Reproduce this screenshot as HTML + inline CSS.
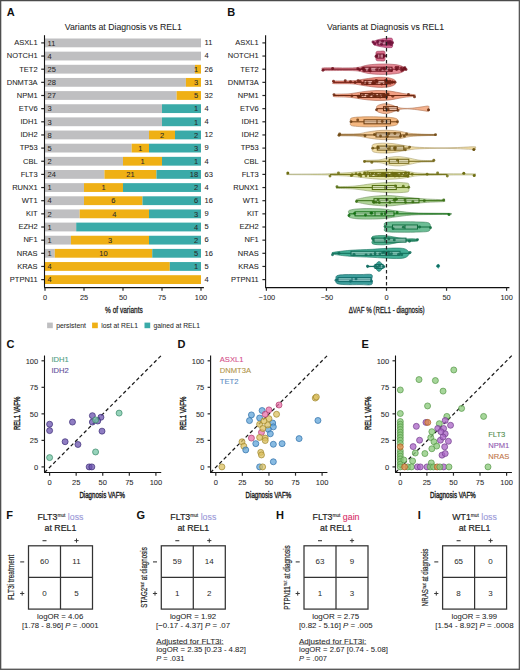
<!DOCTYPE html>
<html><head><meta charset="utf-8"><style>
html,body{margin:0;padding:0;background:#fff;width:520px;height:670px;overflow:hidden}
svg{display:block}
text{font-family:"Liberation Sans", sans-serif}
</style></head><body>
<svg width="520" height="670" viewBox="0 0 520 670">
<rect width="520" height="670" fill="#fff"/>
<rect x="0" y="0" width="520" height="1.25" fill="#4a4a4a"/><rect x="0" y="0" width="1.3" height="670" fill="#4e4e4e"/><rect x="518.7" y="0" width="1.3" height="670" fill="#585858"/><rect x="0" y="668.6" width="520" height="1.4" fill="#5a5a5a"/>
<text x="6.80" y="16.10" font-size="11" text-anchor="start" fill="#111" font-weight="bold" >A</text>
<text x="227.30" y="16.10" font-size="11" text-anchor="start" fill="#111" font-weight="bold" >B</text>
<text x="6.60" y="347.50" font-size="11" text-anchor="start" fill="#111" font-weight="bold" >C</text>
<text x="177.60" y="347.50" font-size="11" text-anchor="start" fill="#111" font-weight="bold" >D</text>
<text x="361.60" y="347.50" font-size="11" text-anchor="start" fill="#111" font-weight="bold" >E</text>
<text x="6.20" y="518.80" font-size="11" text-anchor="start" fill="#111" font-weight="bold" >F</text>
<text x="136.60" y="518.80" font-size="11" text-anchor="start" fill="#111" font-weight="bold" >G</text>
<text x="276.00" y="518.80" font-size="11" text-anchor="start" fill="#111" font-weight="bold" >H</text>
<text x="417.80" y="518.80" font-size="11" text-anchor="start" fill="#111" font-weight="bold" >I</text>
<text x="64.80" y="29.80" font-size="9.6" text-anchor="start" fill="#1e1e1e" font-weight="normal" textLength="117" lengthAdjust="spacingAndGlyphs" stroke="#1e1e1e" stroke-width="0.06" >Variants at Diagnosis vs REL1</text>
<text x="327.00" y="29.80" font-size="9.6" text-anchor="start" fill="#1e1e1e" font-weight="normal" textLength="117" lengthAdjust="spacingAndGlyphs" stroke="#1e1e1e" stroke-width="0.06" >Variants at Diagnosis vs REL1</text>
<rect x="45.00" y="38.50" width="156.00" height="8.8" fill="#bfbfc1"/>
<text x="47.60" y="45.60" font-size="7.5" text-anchor="start" fill="#2a2a2a" font-weight="normal" stroke="#2a2a2a" stroke-width="0.06" >11</text>
<text x="204.60" y="45.20" font-size="7.5" text-anchor="start" fill="#1e1e1e" font-weight="normal" stroke="#1e1e1e" stroke-width="0.06" >11</text>
<text x="37.60" y="45.20" font-size="7.5" text-anchor="end" fill="#1e1e1e" font-weight="normal" stroke="#1e1e1e" stroke-width="0.06" >ASXL1</text>
<line x1="41.2" y1="42.90" x2="44.5" y2="42.90" stroke="#2a2a2a" stroke-width="1.2"/>
<rect x="45.00" y="51.65" width="156.00" height="8.8" fill="#bfbfc1"/>
<text x="47.60" y="58.75" font-size="7.5" text-anchor="start" fill="#2a2a2a" font-weight="normal" stroke="#2a2a2a" stroke-width="0.06" >4</text>
<text x="204.60" y="58.35" font-size="7.5" text-anchor="start" fill="#1e1e1e" font-weight="normal" stroke="#1e1e1e" stroke-width="0.06" >4</text>
<text x="37.60" y="58.35" font-size="7.5" text-anchor="end" fill="#1e1e1e" font-weight="normal" stroke="#1e1e1e" stroke-width="0.06" >NOTCH1</text>
<line x1="41.2" y1="56.05" x2="44.5" y2="56.05" stroke="#2a2a2a" stroke-width="1.2"/>
<rect x="45.00" y="64.80" width="150.00" height="8.8" fill="#bfbfc1"/>
<rect x="195.00" y="64.80" width="6.00" height="8.8" fill="#efb015"/>
<text x="47.60" y="71.90" font-size="7.5" text-anchor="start" fill="#2a2a2a" font-weight="normal" stroke="#2a2a2a" stroke-width="0.06" >25</text>
<text x="198.20" y="71.90" font-size="7.5" text-anchor="end" fill="#2a2a2a" font-weight="normal" stroke="#2a2a2a" stroke-width="0.06" >1</text>
<text x="204.60" y="71.50" font-size="7.5" text-anchor="start" fill="#1e1e1e" font-weight="normal" stroke="#1e1e1e" stroke-width="0.06" >26</text>
<text x="37.60" y="71.50" font-size="7.5" text-anchor="end" fill="#1e1e1e" font-weight="normal" stroke="#1e1e1e" stroke-width="0.06" >TET2</text>
<line x1="41.2" y1="69.20" x2="44.5" y2="69.20" stroke="#2a2a2a" stroke-width="1.2"/>
<rect x="45.00" y="77.95" width="140.90" height="8.8" fill="#bfbfc1"/>
<rect x="185.90" y="77.95" width="15.10" height="8.8" fill="#efb015"/>
<text x="47.60" y="85.05" font-size="7.5" text-anchor="start" fill="#2a2a2a" font-weight="normal" stroke="#2a2a2a" stroke-width="0.06" >28</text>
<text x="198.20" y="85.05" font-size="7.5" text-anchor="end" fill="#2a2a2a" font-weight="normal" stroke="#2a2a2a" stroke-width="0.06" >3</text>
<text x="204.60" y="84.65" font-size="7.5" text-anchor="start" fill="#1e1e1e" font-weight="normal" stroke="#1e1e1e" stroke-width="0.06" >31</text>
<text x="37.60" y="84.65" font-size="7.5" text-anchor="end" fill="#1e1e1e" font-weight="normal" stroke="#1e1e1e" stroke-width="0.06" >DNMT3A</text>
<line x1="41.2" y1="82.35" x2="44.5" y2="82.35" stroke="#2a2a2a" stroke-width="1.2"/>
<rect x="45.00" y="91.10" width="131.62" height="8.8" fill="#bfbfc1"/>
<rect x="176.62" y="91.10" width="24.38" height="8.8" fill="#efb015"/>
<text x="47.60" y="98.20" font-size="7.5" text-anchor="start" fill="#2a2a2a" font-weight="normal" stroke="#2a2a2a" stroke-width="0.06" >27</text>
<text x="198.20" y="98.20" font-size="7.5" text-anchor="end" fill="#2a2a2a" font-weight="normal" stroke="#2a2a2a" stroke-width="0.06" >5</text>
<text x="204.60" y="97.80" font-size="7.5" text-anchor="start" fill="#1e1e1e" font-weight="normal" stroke="#1e1e1e" stroke-width="0.06" >32</text>
<text x="37.60" y="97.80" font-size="7.5" text-anchor="end" fill="#1e1e1e" font-weight="normal" stroke="#1e1e1e" stroke-width="0.06" >NPM1</text>
<line x1="41.2" y1="95.50" x2="44.5" y2="95.50" stroke="#2a2a2a" stroke-width="1.2"/>
<rect x="45.00" y="104.25" width="117.00" height="8.8" fill="#bfbfc1"/>
<rect x="162.00" y="104.25" width="39.00" height="8.8" fill="#3aaaa8"/>
<text x="47.60" y="111.35" font-size="7.5" text-anchor="start" fill="#2a2a2a" font-weight="normal" stroke="#2a2a2a" stroke-width="0.06" >3</text>
<text x="198.20" y="111.35" font-size="7.5" text-anchor="end" fill="#2a2a2a" font-weight="normal" stroke="#2a2a2a" stroke-width="0.06" >1</text>
<text x="204.60" y="110.95" font-size="7.5" text-anchor="start" fill="#1e1e1e" font-weight="normal" stroke="#1e1e1e" stroke-width="0.06" >4</text>
<text x="37.60" y="110.95" font-size="7.5" text-anchor="end" fill="#1e1e1e" font-weight="normal" stroke="#1e1e1e" stroke-width="0.06" >ETV6</text>
<line x1="41.2" y1="108.65" x2="44.5" y2="108.65" stroke="#2a2a2a" stroke-width="1.2"/>
<rect x="45.00" y="117.40" width="117.00" height="8.8" fill="#bfbfc1"/>
<rect x="162.00" y="117.40" width="39.00" height="8.8" fill="#3aaaa8"/>
<text x="47.60" y="124.50" font-size="7.5" text-anchor="start" fill="#2a2a2a" font-weight="normal" stroke="#2a2a2a" stroke-width="0.06" >3</text>
<text x="198.20" y="124.50" font-size="7.5" text-anchor="end" fill="#2a2a2a" font-weight="normal" stroke="#2a2a2a" stroke-width="0.06" >1</text>
<text x="204.60" y="124.10" font-size="7.5" text-anchor="start" fill="#1e1e1e" font-weight="normal" stroke="#1e1e1e" stroke-width="0.06" >4</text>
<text x="37.60" y="124.10" font-size="7.5" text-anchor="end" fill="#1e1e1e" font-weight="normal" stroke="#1e1e1e" stroke-width="0.06" >IDH1</text>
<line x1="41.2" y1="121.80" x2="44.5" y2="121.80" stroke="#2a2a2a" stroke-width="1.2"/>
<rect x="45.00" y="130.55" width="104.00" height="8.8" fill="#bfbfc1"/>
<rect x="149.00" y="130.55" width="26.00" height="8.8" fill="#efb015"/>
<rect x="175.00" y="130.55" width="26.00" height="8.8" fill="#3aaaa8"/>
<text x="47.60" y="137.65" font-size="7.5" text-anchor="start" fill="#2a2a2a" font-weight="normal" stroke="#2a2a2a" stroke-width="0.06" >8</text>
<text x="162.00" y="137.65" font-size="7.5" text-anchor="middle" fill="#2a2a2a" font-weight="normal" stroke="#2a2a2a" stroke-width="0.06" >2</text>
<text x="198.20" y="137.65" font-size="7.5" text-anchor="end" fill="#2a2a2a" font-weight="normal" stroke="#2a2a2a" stroke-width="0.06" >2</text>
<text x="204.60" y="137.25" font-size="7.5" text-anchor="start" fill="#1e1e1e" font-weight="normal" stroke="#1e1e1e" stroke-width="0.06" >12</text>
<text x="37.60" y="137.25" font-size="7.5" text-anchor="end" fill="#1e1e1e" font-weight="normal" stroke="#1e1e1e" stroke-width="0.06" >IDH2</text>
<line x1="41.2" y1="134.95" x2="44.5" y2="134.95" stroke="#2a2a2a" stroke-width="1.2"/>
<rect x="45.00" y="143.70" width="86.67" height="8.8" fill="#bfbfc1"/>
<rect x="131.67" y="143.70" width="17.33" height="8.8" fill="#efb015"/>
<rect x="149.00" y="143.70" width="52.00" height="8.8" fill="#3aaaa8"/>
<text x="47.60" y="150.80" font-size="7.5" text-anchor="start" fill="#2a2a2a" font-weight="normal" stroke="#2a2a2a" stroke-width="0.06" >5</text>
<text x="140.33" y="150.80" font-size="7.5" text-anchor="middle" fill="#2a2a2a" font-weight="normal" stroke="#2a2a2a" stroke-width="0.06" >1</text>
<text x="198.20" y="150.80" font-size="7.5" text-anchor="end" fill="#2a2a2a" font-weight="normal" stroke="#2a2a2a" stroke-width="0.06" >3</text>
<text x="204.60" y="150.40" font-size="7.5" text-anchor="start" fill="#1e1e1e" font-weight="normal" stroke="#1e1e1e" stroke-width="0.06" >9</text>
<text x="37.60" y="150.40" font-size="7.5" text-anchor="end" fill="#1e1e1e" font-weight="normal" stroke="#1e1e1e" stroke-width="0.06" >TP53</text>
<line x1="41.2" y1="148.10" x2="44.5" y2="148.10" stroke="#2a2a2a" stroke-width="1.2"/>
<rect x="45.00" y="156.85" width="78.00" height="8.8" fill="#bfbfc1"/>
<rect x="123.00" y="156.85" width="39.00" height="8.8" fill="#efb015"/>
<rect x="162.00" y="156.85" width="39.00" height="8.8" fill="#3aaaa8"/>
<text x="47.60" y="163.95" font-size="7.5" text-anchor="start" fill="#2a2a2a" font-weight="normal" stroke="#2a2a2a" stroke-width="0.06" >2</text>
<text x="142.50" y="163.95" font-size="7.5" text-anchor="middle" fill="#2a2a2a" font-weight="normal" stroke="#2a2a2a" stroke-width="0.06" >1</text>
<text x="198.20" y="163.95" font-size="7.5" text-anchor="end" fill="#2a2a2a" font-weight="normal" stroke="#2a2a2a" stroke-width="0.06" >1</text>
<text x="204.60" y="163.55" font-size="7.5" text-anchor="start" fill="#1e1e1e" font-weight="normal" stroke="#1e1e1e" stroke-width="0.06" >4</text>
<text x="37.60" y="163.55" font-size="7.5" text-anchor="end" fill="#1e1e1e" font-weight="normal" stroke="#1e1e1e" stroke-width="0.06" >CBL</text>
<line x1="41.2" y1="161.25" x2="44.5" y2="161.25" stroke="#2a2a2a" stroke-width="1.2"/>
<rect x="45.00" y="170.00" width="59.43" height="8.8" fill="#bfbfc1"/>
<rect x="104.43" y="170.00" width="52.00" height="8.8" fill="#efb015"/>
<rect x="156.43" y="170.00" width="44.57" height="8.8" fill="#3aaaa8"/>
<text x="47.60" y="177.10" font-size="7.5" text-anchor="start" fill="#2a2a2a" font-weight="normal" stroke="#2a2a2a" stroke-width="0.06" >24</text>
<text x="130.43" y="177.10" font-size="7.5" text-anchor="middle" fill="#2a2a2a" font-weight="normal" stroke="#2a2a2a" stroke-width="0.06" >21</text>
<text x="198.20" y="177.10" font-size="7.5" text-anchor="end" fill="#2a2a2a" font-weight="normal" stroke="#2a2a2a" stroke-width="0.06" >18</text>
<text x="204.60" y="176.70" font-size="7.5" text-anchor="start" fill="#1e1e1e" font-weight="normal" stroke="#1e1e1e" stroke-width="0.06" >63</text>
<text x="37.60" y="176.70" font-size="7.5" text-anchor="end" fill="#1e1e1e" font-weight="normal" stroke="#1e1e1e" stroke-width="0.06" >FLT3</text>
<line x1="41.2" y1="174.40" x2="44.5" y2="174.40" stroke="#2a2a2a" stroke-width="1.2"/>
<rect x="45.00" y="183.15" width="39.00" height="8.8" fill="#bfbfc1"/>
<rect x="84.00" y="183.15" width="39.00" height="8.8" fill="#efb015"/>
<rect x="123.00" y="183.15" width="78.00" height="8.8" fill="#3aaaa8"/>
<text x="47.60" y="190.25" font-size="7.5" text-anchor="start" fill="#2a2a2a" font-weight="normal" stroke="#2a2a2a" stroke-width="0.06" >1</text>
<text x="103.50" y="190.25" font-size="7.5" text-anchor="middle" fill="#2a2a2a" font-weight="normal" stroke="#2a2a2a" stroke-width="0.06" >1</text>
<text x="198.20" y="190.25" font-size="7.5" text-anchor="end" fill="#2a2a2a" font-weight="normal" stroke="#2a2a2a" stroke-width="0.06" >2</text>
<text x="204.60" y="189.85" font-size="7.5" text-anchor="start" fill="#1e1e1e" font-weight="normal" stroke="#1e1e1e" stroke-width="0.06" >4</text>
<text x="37.60" y="189.85" font-size="7.5" text-anchor="end" fill="#1e1e1e" font-weight="normal" stroke="#1e1e1e" stroke-width="0.06" >RUNX1</text>
<line x1="41.2" y1="187.55" x2="44.5" y2="187.55" stroke="#2a2a2a" stroke-width="1.2"/>
<rect x="45.00" y="196.30" width="39.00" height="8.8" fill="#bfbfc1"/>
<rect x="84.00" y="196.30" width="58.50" height="8.8" fill="#efb015"/>
<rect x="142.50" y="196.30" width="58.50" height="8.8" fill="#3aaaa8"/>
<text x="47.60" y="203.40" font-size="7.5" text-anchor="start" fill="#2a2a2a" font-weight="normal" stroke="#2a2a2a" stroke-width="0.06" >4</text>
<text x="113.25" y="203.40" font-size="7.5" text-anchor="middle" fill="#2a2a2a" font-weight="normal" stroke="#2a2a2a" stroke-width="0.06" >6</text>
<text x="198.20" y="203.40" font-size="7.5" text-anchor="end" fill="#2a2a2a" font-weight="normal" stroke="#2a2a2a" stroke-width="0.06" >6</text>
<text x="204.60" y="203.00" font-size="7.5" text-anchor="start" fill="#1e1e1e" font-weight="normal" stroke="#1e1e1e" stroke-width="0.06" >16</text>
<text x="37.60" y="203.00" font-size="7.5" text-anchor="end" fill="#1e1e1e" font-weight="normal" stroke="#1e1e1e" stroke-width="0.06" >WT1</text>
<line x1="41.2" y1="200.70" x2="44.5" y2="200.70" stroke="#2a2a2a" stroke-width="1.2"/>
<rect x="45.00" y="209.45" width="34.67" height="8.8" fill="#bfbfc1"/>
<rect x="79.67" y="209.45" width="69.33" height="8.8" fill="#efb015"/>
<rect x="149.00" y="209.45" width="52.00" height="8.8" fill="#3aaaa8"/>
<text x="47.60" y="216.55" font-size="7.5" text-anchor="start" fill="#2a2a2a" font-weight="normal" stroke="#2a2a2a" stroke-width="0.06" >2</text>
<text x="114.33" y="216.55" font-size="7.5" text-anchor="middle" fill="#2a2a2a" font-weight="normal" stroke="#2a2a2a" stroke-width="0.06" >4</text>
<text x="198.20" y="216.55" font-size="7.5" text-anchor="end" fill="#2a2a2a" font-weight="normal" stroke="#2a2a2a" stroke-width="0.06" >3</text>
<text x="204.60" y="216.15" font-size="7.5" text-anchor="start" fill="#1e1e1e" font-weight="normal" stroke="#1e1e1e" stroke-width="0.06" >9</text>
<text x="37.60" y="216.15" font-size="7.5" text-anchor="end" fill="#1e1e1e" font-weight="normal" stroke="#1e1e1e" stroke-width="0.06" >KIT</text>
<line x1="41.2" y1="213.85" x2="44.5" y2="213.85" stroke="#2a2a2a" stroke-width="1.2"/>
<rect x="45.00" y="222.60" width="31.20" height="8.8" fill="#bfbfc1"/>
<rect x="76.20" y="222.60" width="124.80" height="8.8" fill="#3aaaa8"/>
<text x="47.60" y="229.70" font-size="7.5" text-anchor="start" fill="#2a2a2a" font-weight="normal" stroke="#2a2a2a" stroke-width="0.06" >1</text>
<text x="198.20" y="229.70" font-size="7.5" text-anchor="end" fill="#2a2a2a" font-weight="normal" stroke="#2a2a2a" stroke-width="0.06" >4</text>
<text x="204.60" y="229.30" font-size="7.5" text-anchor="start" fill="#1e1e1e" font-weight="normal" stroke="#1e1e1e" stroke-width="0.06" >5</text>
<text x="37.60" y="229.30" font-size="7.5" text-anchor="end" fill="#1e1e1e" font-weight="normal" stroke="#1e1e1e" stroke-width="0.06" >EZH2</text>
<line x1="41.2" y1="227.00" x2="44.5" y2="227.00" stroke="#2a2a2a" stroke-width="1.2"/>
<rect x="45.00" y="235.75" width="26.00" height="8.8" fill="#bfbfc1"/>
<rect x="71.00" y="235.75" width="78.00" height="8.8" fill="#efb015"/>
<rect x="149.00" y="235.75" width="52.00" height="8.8" fill="#3aaaa8"/>
<text x="47.60" y="242.85" font-size="7.5" text-anchor="start" fill="#2a2a2a" font-weight="normal" stroke="#2a2a2a" stroke-width="0.06" >1</text>
<text x="110.00" y="242.85" font-size="7.5" text-anchor="middle" fill="#2a2a2a" font-weight="normal" stroke="#2a2a2a" stroke-width="0.06" >3</text>
<text x="198.20" y="242.85" font-size="7.5" text-anchor="end" fill="#2a2a2a" font-weight="normal" stroke="#2a2a2a" stroke-width="0.06" >2</text>
<text x="204.60" y="242.45" font-size="7.5" text-anchor="start" fill="#1e1e1e" font-weight="normal" stroke="#1e1e1e" stroke-width="0.06" >6</text>
<text x="37.60" y="242.45" font-size="7.5" text-anchor="end" fill="#1e1e1e" font-weight="normal" stroke="#1e1e1e" stroke-width="0.06" >NF1</text>
<line x1="41.2" y1="240.15" x2="44.5" y2="240.15" stroke="#2a2a2a" stroke-width="1.2"/>
<rect x="45.00" y="248.90" width="9.75" height="8.8" fill="#bfbfc1"/>
<rect x="54.75" y="248.90" width="97.50" height="8.8" fill="#efb015"/>
<rect x="152.25" y="248.90" width="48.75" height="8.8" fill="#3aaaa8"/>
<text x="47.60" y="256.00" font-size="7.5" text-anchor="start" fill="#2a2a2a" font-weight="normal" stroke="#2a2a2a" stroke-width="0.06" >1</text>
<text x="103.50" y="256.00" font-size="7.5" text-anchor="middle" fill="#2a2a2a" font-weight="normal" stroke="#2a2a2a" stroke-width="0.06" >10</text>
<text x="198.20" y="256.00" font-size="7.5" text-anchor="end" fill="#2a2a2a" font-weight="normal" stroke="#2a2a2a" stroke-width="0.06" >5</text>
<text x="204.60" y="255.60" font-size="7.5" text-anchor="start" fill="#1e1e1e" font-weight="normal" stroke="#1e1e1e" stroke-width="0.06" >16</text>
<text x="37.60" y="255.60" font-size="7.5" text-anchor="end" fill="#1e1e1e" font-weight="normal" stroke="#1e1e1e" stroke-width="0.06" >NRAS</text>
<line x1="41.2" y1="253.30" x2="44.5" y2="253.30" stroke="#2a2a2a" stroke-width="1.2"/>
<rect x="45.00" y="262.05" width="124.80" height="8.8" fill="#efb015"/>
<rect x="169.80" y="262.05" width="31.20" height="8.8" fill="#3aaaa8"/>
<text x="47.60" y="269.15" font-size="7.5" text-anchor="start" fill="#2a2a2a" font-weight="normal" stroke="#2a2a2a" stroke-width="0.06" >4</text>
<text x="198.20" y="269.15" font-size="7.5" text-anchor="end" fill="#2a2a2a" font-weight="normal" stroke="#2a2a2a" stroke-width="0.06" >1</text>
<text x="204.60" y="268.75" font-size="7.5" text-anchor="start" fill="#1e1e1e" font-weight="normal" stroke="#1e1e1e" stroke-width="0.06" >5</text>
<text x="37.60" y="268.75" font-size="7.5" text-anchor="end" fill="#1e1e1e" font-weight="normal" stroke="#1e1e1e" stroke-width="0.06" >KRAS</text>
<line x1="41.2" y1="266.45" x2="44.5" y2="266.45" stroke="#2a2a2a" stroke-width="1.2"/>
<rect x="45.00" y="275.20" width="156.00" height="8.8" fill="#efb015"/>
<text x="47.60" y="282.30" font-size="7.5" text-anchor="start" fill="#2a2a2a" font-weight="normal" stroke="#2a2a2a" stroke-width="0.06" >4</text>
<text x="204.60" y="281.90" font-size="7.5" text-anchor="start" fill="#1e1e1e" font-weight="normal" stroke="#1e1e1e" stroke-width="0.06" >4</text>
<text x="37.60" y="281.90" font-size="7.5" text-anchor="end" fill="#1e1e1e" font-weight="normal" stroke="#1e1e1e" stroke-width="0.06" >PTPN11</text>
<line x1="41.2" y1="279.60" x2="44.5" y2="279.60" stroke="#2a2a2a" stroke-width="1.2"/>
<line x1="44.5" y1="35.2" x2="44.5" y2="287.6" stroke="#111" stroke-width="1.1"/>
<line x1="44" y1="287.6" x2="203.9" y2="287.6" stroke="#111" stroke-width="1.1"/>
<line x1="45.00" y1="287.6" x2="45.00" y2="290.8" stroke="#2a2a2a" stroke-width="1.2"/>
<text x="45.00" y="300.40" font-size="7.4" text-anchor="middle" fill="#2a2a2a" font-weight="normal" stroke="#2a2a2a" stroke-width="0.06" >0</text>
<line x1="84.00" y1="287.6" x2="84.00" y2="290.8" stroke="#2a2a2a" stroke-width="1.2"/>
<text x="84.00" y="300.40" font-size="7.4" text-anchor="middle" fill="#2a2a2a" font-weight="normal" stroke="#2a2a2a" stroke-width="0.06" >25</text>
<line x1="123.00" y1="287.6" x2="123.00" y2="290.8" stroke="#2a2a2a" stroke-width="1.2"/>
<text x="123.00" y="300.40" font-size="7.4" text-anchor="middle" fill="#2a2a2a" font-weight="normal" stroke="#2a2a2a" stroke-width="0.06" >50</text>
<line x1="162.00" y1="287.6" x2="162.00" y2="290.8" stroke="#2a2a2a" stroke-width="1.2"/>
<text x="162.00" y="300.40" font-size="7.4" text-anchor="middle" fill="#2a2a2a" font-weight="normal" stroke="#2a2a2a" stroke-width="0.06" >75</text>
<line x1="201.00" y1="287.6" x2="201.00" y2="290.8" stroke="#2a2a2a" stroke-width="1.2"/>
<text x="201.00" y="300.40" font-size="7.4" text-anchor="middle" fill="#2a2a2a" font-weight="normal" stroke="#2a2a2a" stroke-width="0.06" >100</text>
<text x="105.10" y="312.80" font-size="8.6" text-anchor="start" fill="#1e1e1e" font-weight="normal" textLength="37.7" lengthAdjust="spacingAndGlyphs" stroke="#1e1e1e" stroke-width="0.3" >% of variants</text>
<rect x="47.1" y="322.6" width="5.7" height="5.6" fill="#bfbfc1"/>
<text x="56.20" y="328.00" font-size="7.9" text-anchor="start" fill="#2a2a2a" font-weight="normal" textLength="29.8" lengthAdjust="spacingAndGlyphs" stroke="#2a2a2a" stroke-width="0.06" >persistent</text>
<rect x="92.1" y="322.6" width="5.7" height="5.6" fill="#efb015"/>
<text x="101.20" y="328.00" font-size="7.9" text-anchor="start" fill="#2a2a2a" font-weight="normal" textLength="36.8" lengthAdjust="spacingAndGlyphs" stroke="#2a2a2a" stroke-width="0.06" >lost at REL1</text>
<rect x="144.5" y="322.6" width="5.7" height="5.6" fill="#3aaaa8"/>
<text x="153.60" y="328.00" font-size="7.9" text-anchor="start" fill="#2a2a2a" font-weight="normal" textLength="46.4" lengthAdjust="spacingAndGlyphs" stroke="#2a2a2a" stroke-width="0.06" >gained at REL1</text>
<path d="M372.80,42.90 C372.92,42.65 372.63,41.93 373.50,41.40 C374.37,40.87 376.08,40.20 378.00,39.70 C379.92,39.20 383.00,38.67 385.00,38.40 C387.00,38.13 388.77,38.02 390.00,38.10 C391.23,38.18 391.97,38.10 392.40,38.90 C392.83,39.70 392.57,42.23 392.60,42.90 C392.63,43.57 392.63,42.23 392.60,42.90 C392.57,43.57 392.83,46.10 392.40,46.90 C391.97,47.70 391.23,47.62 390.00,47.70 C388.77,47.78 387.00,47.67 385.00,47.40 C383.00,47.13 379.92,46.60 378.00,46.10 C376.08,45.60 374.37,44.93 373.50,44.40 C372.63,43.87 372.92,43.15 372.80,42.90 Z" fill="#cc4a80" fill-opacity="0.85" stroke="#92355c" stroke-width="0.7" stroke-opacity="0.85"/>
<line x1="373.00" y1="42.90" x2="392.50" y2="42.90" stroke="#6d1137" stroke-width="1.0"/>
<rect x="378.00" y="40.90" width="12.00" height="4.0" fill="#ffffff" fill-opacity="0.35" stroke="#6d1137" stroke-width="1.05"/>
<line x1="386.00" y1="40.90" x2="386.00" y2="44.90" stroke="#6d1137" stroke-width="1.0"/>
<circle cx="373.00" cy="41.89" r="1.45" fill="#6d1137" fill-opacity="0.85"/>
<circle cx="392.50" cy="42.75" r="1.45" fill="#6d1137" fill-opacity="0.85"/>
<circle cx="387.89" cy="42.14" r="1.45" fill="#6d1137" fill-opacity="0.85"/>
<circle cx="382.66" cy="41.18" r="1.45" fill="#6d1137" fill-opacity="0.85"/>
<circle cx="374.83" cy="44.12" r="1.45" fill="#6d1137" fill-opacity="0.85"/>
<circle cx="389.30" cy="43.10" r="1.45" fill="#6d1137" fill-opacity="0.85"/>
<circle cx="387.86" cy="43.41" r="1.45" fill="#6d1137" fill-opacity="0.85"/>
<circle cx="390.58" cy="41.77" r="1.45" fill="#6d1137" fill-opacity="0.85"/>
<circle cx="391.31" cy="44.67" r="1.45" fill="#6d1137" fill-opacity="0.85"/>
<circle cx="381.54" cy="44.20" r="1.45" fill="#6d1137" fill-opacity="0.85"/>
<circle cx="377.55" cy="41.54" r="1.45" fill="#6d1137" fill-opacity="0.85"/>
<text x="258.70" y="45.20" font-size="7.5" text-anchor="end" fill="#1e1e1e" font-weight="normal" stroke="#1e1e1e" stroke-width="0.06" >ASXL1</text>
<line x1="262.4" y1="42.90" x2="265.6" y2="42.90" stroke="#2a2a2a" stroke-width="1.2"/>
<path d="M376.00,56.05 C376.05,55.35 375.63,52.65 376.30,51.85 C376.97,51.05 378.62,51.32 380.00,51.25 C381.38,51.18 383.78,50.65 384.60,51.45 C385.42,52.25 384.85,55.28 384.90,56.05 C384.95,56.82 384.95,55.28 384.90,56.05 C384.85,56.82 385.42,59.85 384.60,60.65 C383.78,61.45 381.38,60.92 380.00,60.85 C378.62,60.78 376.97,61.05 376.30,60.25 C375.63,59.45 376.05,56.75 376.00,56.05 Z" fill="#d45478" fill-opacity="0.85" stroke="#983c56" stroke-width="0.7" stroke-opacity="0.85"/>
<line x1="376.00" y1="56.05" x2="384.40" y2="56.05" stroke="#6d112b" stroke-width="1.0"/>
<rect x="377.00" y="54.05" width="6.50" height="4.0" fill="#ffffff" fill-opacity="0.35" stroke="#6d112b" stroke-width="1.05"/>
<line x1="380.00" y1="54.05" x2="380.00" y2="58.05" stroke="#6d112b" stroke-width="1.0"/>
<circle cx="376.00" cy="56.56" r="1.45" fill="#6d112b" fill-opacity="0.85"/>
<circle cx="384.40" cy="55.90" r="1.45" fill="#6d112b" fill-opacity="0.85"/>
<circle cx="376.72" cy="55.88" r="1.45" fill="#6d112b" fill-opacity="0.85"/>
<circle cx="384.39" cy="56.03" r="1.45" fill="#6d112b" fill-opacity="0.85"/>
<text x="258.70" y="58.35" font-size="7.5" text-anchor="end" fill="#1e1e1e" font-weight="normal" stroke="#1e1e1e" stroke-width="0.06" >NOTCH1</text>
<line x1="262.4" y1="56.05" x2="265.6" y2="56.05" stroke="#2a2a2a" stroke-width="1.2"/>
<path d="M323.00,69.20 C323.08,68.98 319.83,68.12 323.50,67.90 C327.17,67.68 339.25,67.98 345.00,67.90 C350.75,67.82 354.17,67.88 358.00,67.40 C361.83,66.92 364.00,65.57 368.00,65.00 C372.00,64.43 377.50,64.07 382.00,64.00 C386.50,63.93 391.67,64.23 395.00,64.60 C398.33,64.97 400.17,65.43 402.00,66.20 C403.83,66.97 405.33,68.70 406.00,69.20 C406.67,69.70 406.67,68.70 406.00,69.20 C405.33,69.70 403.83,71.43 402.00,72.20 C400.17,72.97 398.33,73.43 395.00,73.80 C391.67,74.17 386.50,74.47 382.00,74.40 C377.50,74.33 372.00,73.97 368.00,73.40 C364.00,72.83 361.83,71.48 358.00,71.00 C354.17,70.52 350.75,70.58 345.00,70.50 C339.25,70.42 327.17,70.72 323.50,70.50 C319.83,70.28 323.08,69.42 323.00,69.20 Z" fill="#e27482" fill-opacity="0.85" stroke="#a2535d" stroke-width="0.7" stroke-opacity="0.85"/>
<line x1="323.00" y1="69.20" x2="406.00" y2="69.20" stroke="#6d111d" stroke-width="1.0"/>
<rect x="363.00" y="67.20" width="29.00" height="4.0" fill="#ffffff" fill-opacity="0.35" stroke="#6d111d" stroke-width="1.05"/>
<line x1="378.00" y1="67.20" x2="378.00" y2="71.20" stroke="#6d111d" stroke-width="1.0"/>
<circle cx="323.00" cy="70.20" r="1.45" fill="#6d111d" fill-opacity="0.85"/>
<circle cx="406.00" cy="69.54" r="1.45" fill="#6d111d" fill-opacity="0.85"/>
<circle cx="403.12" cy="69.89" r="1.45" fill="#6d111d" fill-opacity="0.85"/>
<circle cx="384.09" cy="68.32" r="1.45" fill="#6d111d" fill-opacity="0.85"/>
<circle cx="404.87" cy="67.71" r="1.45" fill="#6d111d" fill-opacity="0.85"/>
<circle cx="396.00" cy="67.43" r="1.45" fill="#6d111d" fill-opacity="0.85"/>
<circle cx="381.78" cy="68.60" r="1.45" fill="#6d111d" fill-opacity="0.85"/>
<circle cx="389.20" cy="69.73" r="1.45" fill="#6d111d" fill-opacity="0.85"/>
<circle cx="357.85" cy="68.77" r="1.45" fill="#6d111d" fill-opacity="0.85"/>
<circle cx="369.87" cy="68.65" r="1.45" fill="#6d111d" fill-opacity="0.85"/>
<circle cx="376.58" cy="69.63" r="1.45" fill="#6d111d" fill-opacity="0.85"/>
<circle cx="380.31" cy="69.94" r="1.45" fill="#6d111d" fill-opacity="0.85"/>
<circle cx="396.63" cy="69.54" r="1.45" fill="#6d111d" fill-opacity="0.85"/>
<circle cx="332.65" cy="68.52" r="1.45" fill="#6d111d" fill-opacity="0.85"/>
<circle cx="369.06" cy="70.36" r="1.45" fill="#6d111d" fill-opacity="0.85"/>
<circle cx="364.67" cy="70.28" r="1.45" fill="#6d111d" fill-opacity="0.85"/>
<circle cx="401.70" cy="70.62" r="1.45" fill="#6d111d" fill-opacity="0.85"/>
<circle cx="391.47" cy="70.61" r="1.45" fill="#6d111d" fill-opacity="0.85"/>
<circle cx="398.10" cy="67.45" r="1.45" fill="#6d111d" fill-opacity="0.85"/>
<circle cx="359.65" cy="69.81" r="1.45" fill="#6d111d" fill-opacity="0.85"/>
<circle cx="362.38" cy="68.65" r="1.45" fill="#6d111d" fill-opacity="0.85"/>
<circle cx="363.88" cy="68.80" r="1.45" fill="#6d111d" fill-opacity="0.85"/>
<circle cx="384.51" cy="69.27" r="1.45" fill="#6d111d" fill-opacity="0.85"/>
<circle cx="401.39" cy="67.92" r="1.45" fill="#6d111d" fill-opacity="0.85"/>
<circle cx="404.04" cy="68.30" r="1.45" fill="#6d111d" fill-opacity="0.85"/>
<circle cx="370.28" cy="70.95" r="1.45" fill="#6d111d" fill-opacity="0.85"/>
<text x="258.70" y="71.50" font-size="7.5" text-anchor="end" fill="#1e1e1e" font-weight="normal" stroke="#1e1e1e" stroke-width="0.06" >TET2</text>
<line x1="262.4" y1="69.20" x2="265.6" y2="69.20" stroke="#2a2a2a" stroke-width="1.2"/>
<path d="M333.50,82.35 C333.58,82.13 330.92,81.30 334.00,81.05 C337.08,80.80 346.83,81.20 352.00,80.85 C357.17,80.50 360.67,79.53 365.00,78.95 C369.33,78.37 374.17,77.55 378.00,77.35 C381.83,77.15 385.25,77.33 388.00,77.75 C390.75,78.17 393.33,79.08 394.50,79.85 C395.67,80.62 394.92,81.93 395.00,82.35 C395.08,82.77 395.08,81.93 395.00,82.35 C394.92,82.77 395.67,84.08 394.50,84.85 C393.33,85.62 390.75,86.53 388.00,86.95 C385.25,87.37 381.83,87.55 378.00,87.35 C374.17,87.15 369.33,86.33 365.00,85.75 C360.67,85.17 357.17,84.20 352.00,83.85 C346.83,83.50 337.08,83.90 334.00,83.65 C330.92,83.40 333.58,82.57 333.50,82.35 Z" fill="#e67664" fill-opacity="0.85" stroke="#a55448" stroke-width="0.7" stroke-opacity="0.85"/>
<line x1="333.50" y1="82.35" x2="395.00" y2="82.35" stroke="#6d1e11" stroke-width="1.0"/>
<rect x="364.00" y="80.35" width="23.00" height="4.0" fill="#ffffff" fill-opacity="0.35" stroke="#6d1e11" stroke-width="1.05"/>
<line x1="377.00" y1="80.35" x2="377.00" y2="84.35" stroke="#6d1e11" stroke-width="1.0"/>
<circle cx="333.50" cy="81.28" r="1.45" fill="#6d1e11" fill-opacity="0.85"/>
<circle cx="395.00" cy="82.31" r="1.45" fill="#6d1e11" fill-opacity="0.85"/>
<circle cx="392.43" cy="81.93" r="1.45" fill="#6d1e11" fill-opacity="0.85"/>
<circle cx="373.56" cy="83.25" r="1.45" fill="#6d1e11" fill-opacity="0.85"/>
<circle cx="388.21" cy="83.14" r="1.45" fill="#6d1e11" fill-opacity="0.85"/>
<circle cx="392.51" cy="82.22" r="1.45" fill="#6d1e11" fill-opacity="0.85"/>
<circle cx="377.05" cy="81.45" r="1.45" fill="#6d1e11" fill-opacity="0.85"/>
<circle cx="387.70" cy="81.38" r="1.45" fill="#6d1e11" fill-opacity="0.85"/>
<circle cx="385.76" cy="81.51" r="1.45" fill="#6d1e11" fill-opacity="0.85"/>
<circle cx="376.45" cy="80.78" r="1.45" fill="#6d1e11" fill-opacity="0.85"/>
<circle cx="374.55" cy="82.95" r="1.45" fill="#6d1e11" fill-opacity="0.85"/>
<circle cx="389.86" cy="81.12" r="1.45" fill="#6d1e11" fill-opacity="0.85"/>
<circle cx="366.90" cy="83.75" r="1.45" fill="#6d1e11" fill-opacity="0.85"/>
<circle cx="374.90" cy="82.88" r="1.45" fill="#6d1e11" fill-opacity="0.85"/>
<circle cx="358.14" cy="80.75" r="1.45" fill="#6d1e11" fill-opacity="0.85"/>
<circle cx="388.57" cy="82.35" r="1.45" fill="#6d1e11" fill-opacity="0.85"/>
<circle cx="367.12" cy="82.72" r="1.45" fill="#6d1e11" fill-opacity="0.85"/>
<circle cx="345.26" cy="80.70" r="1.45" fill="#6d1e11" fill-opacity="0.85"/>
<circle cx="373.30" cy="82.30" r="1.45" fill="#6d1e11" fill-opacity="0.85"/>
<circle cx="376.16" cy="80.66" r="1.45" fill="#6d1e11" fill-opacity="0.85"/>
<circle cx="390.14" cy="83.31" r="1.45" fill="#6d1e11" fill-opacity="0.85"/>
<circle cx="385.56" cy="80.56" r="1.45" fill="#6d1e11" fill-opacity="0.85"/>
<circle cx="373.06" cy="82.83" r="1.45" fill="#6d1e11" fill-opacity="0.85"/>
<circle cx="381.73" cy="84.10" r="1.45" fill="#6d1e11" fill-opacity="0.85"/>
<circle cx="372.53" cy="83.60" r="1.45" fill="#6d1e11" fill-opacity="0.85"/>
<circle cx="360.22" cy="81.39" r="1.45" fill="#6d1e11" fill-opacity="0.85"/>
<circle cx="355.17" cy="82.47" r="1.45" fill="#6d1e11" fill-opacity="0.85"/>
<circle cx="386.77" cy="81.05" r="1.45" fill="#6d1e11" fill-opacity="0.85"/>
<circle cx="350.50" cy="81.78" r="1.45" fill="#6d1e11" fill-opacity="0.85"/>
<circle cx="362.40" cy="83.66" r="1.45" fill="#6d1e11" fill-opacity="0.85"/>
<circle cx="385.71" cy="83.49" r="1.45" fill="#6d1e11" fill-opacity="0.85"/>
<text x="258.70" y="84.65" font-size="7.5" text-anchor="end" fill="#1e1e1e" font-weight="normal" stroke="#1e1e1e" stroke-width="0.06" >DNMT3A</text>
<line x1="262.4" y1="82.35" x2="265.6" y2="82.35" stroke="#2a2a2a" stroke-width="1.2"/>
<path d="M334.00,95.50 C334.08,95.30 331.83,94.60 334.50,94.30 C337.17,94.00 345.25,94.13 350.00,93.70 C354.75,93.27 358.67,92.23 363.00,91.70 C367.33,91.17 371.50,90.60 376.00,90.50 C380.50,90.40 385.50,90.60 390.00,91.10 C394.50,91.60 398.92,92.90 403.00,93.50 C407.08,94.10 412.57,94.37 414.50,94.70 C416.43,95.03 414.58,95.37 414.60,95.50 C414.62,95.63 414.62,95.37 414.60,95.50 C414.58,95.63 416.43,95.97 414.50,96.30 C412.57,96.63 407.08,96.90 403.00,97.50 C398.92,98.10 394.50,99.40 390.00,99.90 C385.50,100.40 380.50,100.60 376.00,100.50 C371.50,100.40 367.33,99.83 363.00,99.30 C358.67,98.77 354.75,97.73 350.00,97.30 C345.25,96.87 337.17,97.00 334.50,96.70 C331.83,96.40 334.08,95.70 334.00,95.50 Z" fill="#ee8e6c" fill-opacity="0.85" stroke="#ab664d" stroke-width="0.7" stroke-opacity="0.85"/>
<line x1="334.00" y1="95.50" x2="414.50" y2="95.50" stroke="#6d2911" stroke-width="1.0"/>
<rect x="360.50" y="93.50" width="24.10" height="4.0" fill="#ffffff" fill-opacity="0.35" stroke="#6d2911" stroke-width="1.05"/>
<line x1="373.00" y1="93.50" x2="373.00" y2="97.50" stroke="#6d2911" stroke-width="1.0"/>
<circle cx="334.00" cy="94.69" r="1.45" fill="#6d2911" fill-opacity="0.85"/>
<circle cx="414.50" cy="96.91" r="1.45" fill="#6d2911" fill-opacity="0.85"/>
<circle cx="378.12" cy="96.40" r="1.45" fill="#6d2911" fill-opacity="0.85"/>
<circle cx="375.08" cy="95.02" r="1.45" fill="#6d2911" fill-opacity="0.85"/>
<circle cx="382.93" cy="96.07" r="1.45" fill="#6d2911" fill-opacity="0.85"/>
<circle cx="392.80" cy="96.35" r="1.45" fill="#6d2911" fill-opacity="0.85"/>
<circle cx="379.29" cy="94.73" r="1.45" fill="#6d2911" fill-opacity="0.85"/>
<circle cx="388.24" cy="94.08" r="1.45" fill="#6d2911" fill-opacity="0.85"/>
<circle cx="375.21" cy="96.62" r="1.45" fill="#6d2911" fill-opacity="0.85"/>
<circle cx="375.51" cy="96.25" r="1.45" fill="#6d2911" fill-opacity="0.85"/>
<circle cx="385.94" cy="96.61" r="1.45" fill="#6d2911" fill-opacity="0.85"/>
<circle cx="383.75" cy="96.37" r="1.45" fill="#6d2911" fill-opacity="0.85"/>
<circle cx="363.56" cy="95.02" r="1.45" fill="#6d2911" fill-opacity="0.85"/>
<circle cx="367.41" cy="96.06" r="1.45" fill="#6d2911" fill-opacity="0.85"/>
<circle cx="387.08" cy="95.02" r="1.45" fill="#6d2911" fill-opacity="0.85"/>
<circle cx="358.78" cy="96.95" r="1.45" fill="#6d2911" fill-opacity="0.85"/>
<circle cx="370.15" cy="94.15" r="1.45" fill="#6d2911" fill-opacity="0.85"/>
<circle cx="374.24" cy="96.21" r="1.45" fill="#6d2911" fill-opacity="0.85"/>
<circle cx="384.00" cy="94.95" r="1.45" fill="#6d2911" fill-opacity="0.85"/>
<circle cx="380.13" cy="96.97" r="1.45" fill="#6d2911" fill-opacity="0.85"/>
<circle cx="369.01" cy="96.59" r="1.45" fill="#6d2911" fill-opacity="0.85"/>
<circle cx="386.98" cy="94.33" r="1.45" fill="#6d2911" fill-opacity="0.85"/>
<circle cx="371.90" cy="93.76" r="1.45" fill="#6d2911" fill-opacity="0.85"/>
<circle cx="369.66" cy="94.54" r="1.45" fill="#6d2911" fill-opacity="0.85"/>
<circle cx="386.52" cy="97.16" r="1.45" fill="#6d2911" fill-opacity="0.85"/>
<circle cx="359.12" cy="96.47" r="1.45" fill="#6d2911" fill-opacity="0.85"/>
<circle cx="358.30" cy="96.24" r="1.45" fill="#6d2911" fill-opacity="0.85"/>
<circle cx="382.49" cy="94.45" r="1.45" fill="#6d2911" fill-opacity="0.85"/>
<circle cx="408.47" cy="94.46" r="1.45" fill="#6d2911" fill-opacity="0.85"/>
<circle cx="385.31" cy="95.30" r="1.45" fill="#6d2911" fill-opacity="0.85"/>
<circle cx="361.05" cy="95.62" r="1.45" fill="#6d2911" fill-opacity="0.85"/>
<circle cx="351.90" cy="95.92" r="1.45" fill="#6d2911" fill-opacity="0.85"/>
<text x="258.70" y="97.80" font-size="7.5" text-anchor="end" fill="#1e1e1e" font-weight="normal" stroke="#1e1e1e" stroke-width="0.06" >NPM1</text>
<line x1="262.4" y1="95.50" x2="265.6" y2="95.50" stroke="#2a2a2a" stroke-width="1.2"/>
<path d="M376.50,108.65 C376.67,108.15 376.08,106.48 377.50,105.65 C378.92,104.82 382.58,103.75 385.00,103.65 C387.42,103.55 389.83,104.42 392.00,105.05 C394.17,105.68 396.00,106.90 398.00,107.45 C400.00,108.00 401.67,108.23 404.00,108.35 C406.33,108.47 409.00,108.40 412.00,108.15 C415.00,107.90 419.25,107.20 422.00,106.85 C424.75,106.50 427.40,105.75 428.50,106.05 C429.60,106.35 428.58,108.22 428.60,108.65 C428.62,109.08 428.62,108.22 428.60,108.65 C428.58,109.08 429.60,110.95 428.50,111.25 C427.40,111.55 424.75,110.80 422.00,110.45 C419.25,110.10 415.00,109.40 412.00,109.15 C409.00,108.90 406.33,108.83 404.00,108.95 C401.67,109.07 400.00,109.30 398.00,109.85 C396.00,110.40 394.17,111.62 392.00,112.25 C389.83,112.88 387.42,113.75 385.00,113.65 C382.58,113.55 378.92,112.48 377.50,111.65 C376.08,110.82 376.67,109.15 376.50,108.65 Z" fill="#f2a47a" fill-opacity="0.85" stroke="#ae7657" stroke-width="0.7" stroke-opacity="0.85"/>
<line x1="376.50" y1="108.65" x2="398.00" y2="108.65" stroke="#6d3111" stroke-width="1.0"/>
<rect x="383.50" y="106.65" width="13.80" height="4.0" fill="#ffffff" fill-opacity="0.35" stroke="#6d3111" stroke-width="1.05"/>
<line x1="388.00" y1="106.65" x2="388.00" y2="110.65" stroke="#6d3111" stroke-width="1.0"/>
<circle cx="376.50" cy="109.83" r="1.45" fill="#6d3111" fill-opacity="0.85"/>
<circle cx="398.00" cy="110.38" r="1.45" fill="#6d3111" fill-opacity="0.85"/>
<circle cx="385.80" cy="108.09" r="1.45" fill="#6d3111" fill-opacity="0.85"/>
<circle cx="388.17" cy="109.75" r="1.45" fill="#6d3111" fill-opacity="0.85"/>
<circle cx="428.50" cy="109.82" r="1.5" fill="#6d3111"/>
<text x="258.70" y="110.95" font-size="7.5" text-anchor="end" fill="#1e1e1e" font-weight="normal" stroke="#1e1e1e" stroke-width="0.06" >ETV6</text>
<line x1="262.4" y1="108.65" x2="265.6" y2="108.65" stroke="#2a2a2a" stroke-width="1.2"/>
<path d="M351.00,121.80 C351.08,121.17 349.17,118.83 351.50,118.00 C353.83,117.17 359.92,116.97 365.00,116.80 C370.08,116.63 377.33,116.83 382.00,117.00 C386.67,117.17 390.43,117.42 393.00,117.80 C395.57,118.18 396.65,118.63 397.40,119.30 C398.15,119.97 397.48,121.38 397.50,121.80 C397.52,122.22 397.52,121.38 397.50,121.80 C397.48,122.22 398.15,123.63 397.40,124.30 C396.65,124.97 395.57,125.42 393.00,125.80 C390.43,126.18 386.67,126.43 382.00,126.60 C377.33,126.77 370.08,126.97 365.00,126.80 C359.92,126.63 353.83,126.43 351.50,125.60 C349.17,124.77 351.08,122.43 351.00,121.80 Z" fill="#f2aa6a" fill-opacity="0.85" stroke="#ae7a4c" stroke-width="0.7" stroke-opacity="0.85"/>
<line x1="351.00" y1="121.80" x2="397.50" y2="121.80" stroke="#6d3d11" stroke-width="1.0"/>
<rect x="364.00" y="119.80" width="26.50" height="4.0" fill="#ffffff" fill-opacity="0.35" stroke="#6d3d11" stroke-width="1.05"/>
<line x1="377.00" y1="119.80" x2="377.00" y2="123.80" stroke="#6d3d11" stroke-width="1.0"/>
<circle cx="351.00" cy="121.63" r="1.45" fill="#6d3d11" fill-opacity="0.85"/>
<circle cx="397.50" cy="121.79" r="1.45" fill="#6d3d11" fill-opacity="0.85"/>
<circle cx="357.69" cy="120.07" r="1.45" fill="#6d3d11" fill-opacity="0.85"/>
<circle cx="382.23" cy="121.56" r="1.45" fill="#6d3d11" fill-opacity="0.85"/>
<text x="258.70" y="124.10" font-size="7.5" text-anchor="end" fill="#1e1e1e" font-weight="normal" stroke="#1e1e1e" stroke-width="0.06" >IDH1</text>
<line x1="262.4" y1="121.80" x2="265.6" y2="121.80" stroke="#2a2a2a" stroke-width="1.2"/>
<path d="M339.00,134.95 C339.08,134.82 336.33,134.35 339.50,134.15 C342.67,133.95 353.25,134.12 358.00,133.75 C362.75,133.38 364.00,132.52 368.00,131.95 C372.00,131.38 377.00,130.52 382.00,130.35 C387.00,130.18 393.33,130.45 398.00,130.95 C402.67,131.45 405.50,132.80 410.00,133.35 C414.50,133.90 420.75,134.07 425.00,134.25 C429.25,134.43 433.73,134.33 435.50,134.45 C437.27,134.57 435.58,134.87 435.60,134.95 C435.62,135.03 435.62,134.87 435.60,134.95 C435.58,135.03 437.27,135.33 435.50,135.45 C433.73,135.57 429.25,135.47 425.00,135.65 C420.75,135.83 414.50,136.00 410.00,136.55 C405.50,137.10 402.67,138.45 398.00,138.95 C393.33,139.45 387.00,139.72 382.00,139.55 C377.00,139.38 372.00,138.52 368.00,137.95 C364.00,137.38 362.75,136.52 358.00,136.15 C353.25,135.78 342.67,135.95 339.50,135.75 C336.33,135.55 339.08,135.08 339.00,134.95 Z" fill="#f2c68a" fill-opacity="0.85" stroke="#ae8e63" stroke-width="0.7" stroke-opacity="0.85"/>
<line x1="339.00" y1="134.95" x2="435.50" y2="134.95" stroke="#6d4611" stroke-width="1.0"/>
<rect x="376.00" y="132.95" width="24.40" height="4.0" fill="#ffffff" fill-opacity="0.35" stroke="#6d4611" stroke-width="1.05"/>
<line x1="388.00" y1="132.95" x2="388.00" y2="136.95" stroke="#6d4611" stroke-width="1.0"/>
<circle cx="339.00" cy="135.26" r="1.45" fill="#6d4611" fill-opacity="0.85"/>
<circle cx="435.50" cy="134.63" r="1.45" fill="#6d4611" fill-opacity="0.85"/>
<circle cx="387.01" cy="136.67" r="1.45" fill="#6d4611" fill-opacity="0.85"/>
<circle cx="400.51" cy="136.21" r="1.45" fill="#6d4611" fill-opacity="0.85"/>
<circle cx="404.28" cy="136.13" r="1.45" fill="#6d4611" fill-opacity="0.85"/>
<circle cx="380.52" cy="136.04" r="1.45" fill="#6d4611" fill-opacity="0.85"/>
<circle cx="406.56" cy="133.96" r="1.45" fill="#6d4611" fill-opacity="0.85"/>
<circle cx="365.02" cy="135.76" r="1.45" fill="#6d4611" fill-opacity="0.85"/>
<circle cx="394.88" cy="133.50" r="1.45" fill="#6d4611" fill-opacity="0.85"/>
<circle cx="388.85" cy="133.64" r="1.45" fill="#6d4611" fill-opacity="0.85"/>
<circle cx="374.49" cy="134.50" r="1.45" fill="#6d4611" fill-opacity="0.85"/>
<circle cx="339.65" cy="134.03" r="1.45" fill="#6d4611" fill-opacity="0.85"/>
<text x="258.70" y="137.25" font-size="7.5" text-anchor="end" fill="#1e1e1e" font-weight="normal" stroke="#1e1e1e" stroke-width="0.06" >IDH2</text>
<line x1="262.4" y1="134.95" x2="265.6" y2="134.95" stroke="#2a2a2a" stroke-width="1.2"/>
<path d="M372.50,148.10 C372.55,147.52 371.55,145.40 372.80,144.60 C374.05,143.80 376.80,143.48 380.00,143.30 C383.20,143.12 388.33,143.20 392.00,143.50 C395.67,143.80 398.17,144.50 402.00,145.10 C405.83,145.70 409.50,146.65 415.00,147.10 C420.50,147.55 428.33,147.72 435.00,147.80 C441.67,147.88 448.42,147.77 455.00,147.60 C461.58,147.43 471.23,146.72 474.50,146.80 C477.77,146.88 474.58,147.88 474.60,148.10 C474.62,148.32 474.62,147.88 474.60,148.10 C474.58,148.32 477.77,149.32 474.50,149.40 C471.23,149.48 461.58,148.77 455.00,148.60 C448.42,148.43 441.67,148.32 435.00,148.40 C428.33,148.48 420.50,148.65 415.00,149.10 C409.50,149.55 405.83,150.50 402.00,151.10 C398.17,151.70 395.67,152.40 392.00,152.70 C388.33,153.00 383.20,153.08 380.00,152.90 C376.80,152.72 374.05,152.40 372.80,151.60 C371.55,150.80 372.55,148.68 372.50,148.10 Z" fill="#f0d898" fill-opacity="0.85" stroke="#ac9b6d" stroke-width="0.7" stroke-opacity="0.85"/>
<line x1="372.70" y1="148.10" x2="409.60" y2="148.10" stroke="#6d5411" stroke-width="1.0"/>
<rect x="377.30" y="146.10" width="26.50" height="4.0" fill="#ffffff" fill-opacity="0.35" stroke="#6d5411" stroke-width="1.05"/>
<line x1="390.00" y1="146.10" x2="390.00" y2="150.10" stroke="#6d5411" stroke-width="1.0"/>
<circle cx="372.70" cy="148.17" r="1.45" fill="#6d5411" fill-opacity="0.85"/>
<circle cx="409.60" cy="147.09" r="1.45" fill="#6d5411" fill-opacity="0.85"/>
<circle cx="405.32" cy="149.83" r="1.45" fill="#6d5411" fill-opacity="0.85"/>
<circle cx="395.00" cy="149.38" r="1.45" fill="#6d5411" fill-opacity="0.85"/>
<circle cx="395.44" cy="147.72" r="1.45" fill="#6d5411" fill-opacity="0.85"/>
<circle cx="377.84" cy="147.08" r="1.45" fill="#6d5411" fill-opacity="0.85"/>
<circle cx="378.40" cy="147.91" r="1.45" fill="#6d5411" fill-opacity="0.85"/>
<circle cx="388.44" cy="148.60" r="1.45" fill="#6d5411" fill-opacity="0.85"/>
<circle cx="394.45" cy="147.90" r="1.45" fill="#6d5411" fill-opacity="0.85"/>
<circle cx="473.80" cy="149.42" r="1.5" fill="#6d5411"/>
<text x="258.70" y="150.40" font-size="7.5" text-anchor="end" fill="#1e1e1e" font-weight="normal" stroke="#1e1e1e" stroke-width="0.06" >TP53</text>
<line x1="262.4" y1="148.10" x2="265.6" y2="148.10" stroke="#2a2a2a" stroke-width="1.2"/>
<path d="M364.50,161.25 C364.58,161.12 362.42,160.70 365.00,160.45 C367.58,160.20 375.83,160.28 380.00,159.75 C384.17,159.22 386.67,157.77 390.00,157.25 C393.33,156.73 396.67,156.48 400.00,156.65 C403.33,156.82 406.67,157.65 410.00,158.25 C413.33,158.85 416.08,159.85 420.00,160.25 C423.92,160.65 431.23,160.48 433.50,160.65 C435.77,160.82 433.58,161.15 433.60,161.25 C433.62,161.35 433.62,161.15 433.60,161.25 C433.58,161.35 435.77,161.68 433.50,161.85 C431.23,162.02 423.92,161.85 420.00,162.25 C416.08,162.65 413.33,163.65 410.00,164.25 C406.67,164.85 403.33,165.68 400.00,165.85 C396.67,166.02 393.33,165.77 390.00,165.25 C386.67,164.73 384.17,163.28 380.00,162.75 C375.83,162.22 367.58,162.30 365.00,162.05 C362.42,161.80 364.58,161.38 364.50,161.25 Z" fill="#ece2a4" fill-opacity="0.85" stroke="#a9a276" stroke-width="0.7" stroke-opacity="0.85"/>
<line x1="364.50" y1="161.25" x2="433.80" y2="161.25" stroke="#6d6011" stroke-width="1.0"/>
<rect x="389.20" y="159.25" width="19.60" height="4.0" fill="#ffffff" fill-opacity="0.35" stroke="#6d6011" stroke-width="1.05"/>
<line x1="398.30" y1="159.25" x2="398.30" y2="163.25" stroke="#6d6011" stroke-width="1.0"/>
<circle cx="364.50" cy="161.57" r="1.45" fill="#6d6011" fill-opacity="0.85"/>
<circle cx="433.80" cy="160.24" r="1.45" fill="#6d6011" fill-opacity="0.85"/>
<circle cx="397.50" cy="160.16" r="1.45" fill="#6d6011" fill-opacity="0.85"/>
<circle cx="371.81" cy="162.38" r="1.45" fill="#6d6011" fill-opacity="0.85"/>
<text x="258.70" y="163.55" font-size="7.5" text-anchor="end" fill="#1e1e1e" font-weight="normal" stroke="#1e1e1e" stroke-width="0.06" >CBL</text>
<line x1="262.4" y1="161.25" x2="265.6" y2="161.25" stroke="#2a2a2a" stroke-width="1.2"/>
<path d="M288.00,174.40 C288.33,174.36 283.83,174.23 290.00,174.15 C296.17,174.07 317.50,174.04 325.00,173.90 C332.50,173.76 330.83,173.52 335.00,173.30 C339.17,173.08 345.00,173.00 350.00,172.60 C355.00,172.20 360.00,171.40 365.00,170.90 C370.00,170.40 375.00,169.78 380.00,169.60 C385.00,169.42 390.33,169.50 395.00,169.80 C399.67,170.10 403.83,170.83 408.00,171.40 C412.17,171.97 413.00,172.80 420.00,173.20 C427.00,173.60 441.00,173.68 450.00,173.80 C459.00,173.92 469.98,173.80 474.00,173.90 C478.02,174.00 474.08,174.32 474.10,174.40 C474.12,174.48 474.12,174.32 474.10,174.40 C474.08,174.48 478.02,174.80 474.00,174.90 C469.98,175.00 459.00,174.88 450.00,175.00 C441.00,175.12 427.00,175.20 420.00,175.60 C413.00,176.00 412.17,176.83 408.00,177.40 C403.83,177.97 399.67,178.70 395.00,179.00 C390.33,179.30 385.00,179.38 380.00,179.20 C375.00,179.02 370.00,178.40 365.00,177.90 C360.00,177.40 355.00,176.60 350.00,176.20 C345.00,175.80 339.17,175.72 335.00,175.50 C330.83,175.28 332.50,175.04 325.00,174.90 C317.50,174.76 296.17,174.73 290.00,174.65 C283.83,174.57 288.33,174.44 288.00,174.40 Z" fill="#e2e29e" fill-opacity="0.85" stroke="#a2a271" stroke-width="0.7" stroke-opacity="0.85"/>
<line x1="330.00" y1="174.40" x2="447.30" y2="174.40" stroke="#6d6d11" stroke-width="1.0"/>
<rect x="369.40" y="172.40" width="39.10" height="4.0" fill="#ffffff" fill-opacity="0.35" stroke="#6d6d11" stroke-width="1.05"/>
<line x1="385.80" y1="172.40" x2="385.80" y2="176.40" stroke="#6d6d11" stroke-width="1.0"/>
<circle cx="330.00" cy="176.09" r="1.45" fill="#6d6d11" fill-opacity="0.85"/>
<circle cx="447.30" cy="175.96" r="1.45" fill="#6d6d11" fill-opacity="0.85"/>
<circle cx="360.89" cy="176.07" r="1.45" fill="#6d6d11" fill-opacity="0.85"/>
<circle cx="352.26" cy="174.72" r="1.45" fill="#6d6d11" fill-opacity="0.85"/>
<circle cx="407.88" cy="176.19" r="1.45" fill="#6d6d11" fill-opacity="0.85"/>
<circle cx="364.94" cy="173.15" r="1.45" fill="#6d6d11" fill-opacity="0.85"/>
<circle cx="371.18" cy="174.69" r="1.45" fill="#6d6d11" fill-opacity="0.85"/>
<circle cx="364.66" cy="172.97" r="1.45" fill="#6d6d11" fill-opacity="0.85"/>
<circle cx="387.94" cy="174.75" r="1.45" fill="#6d6d11" fill-opacity="0.85"/>
<circle cx="385.86" cy="176.16" r="1.45" fill="#6d6d11" fill-opacity="0.85"/>
<circle cx="385.33" cy="175.23" r="1.45" fill="#6d6d11" fill-opacity="0.85"/>
<circle cx="389.14" cy="175.45" r="1.45" fill="#6d6d11" fill-opacity="0.85"/>
<circle cx="366.04" cy="175.86" r="1.45" fill="#6d6d11" fill-opacity="0.85"/>
<circle cx="388.62" cy="175.73" r="1.45" fill="#6d6d11" fill-opacity="0.85"/>
<circle cx="392.74" cy="174.81" r="1.45" fill="#6d6d11" fill-opacity="0.85"/>
<circle cx="377.84" cy="175.38" r="1.45" fill="#6d6d11" fill-opacity="0.85"/>
<circle cx="408.82" cy="173.16" r="1.45" fill="#6d6d11" fill-opacity="0.85"/>
<circle cx="395.14" cy="173.50" r="1.45" fill="#6d6d11" fill-opacity="0.85"/>
<circle cx="385.95" cy="175.20" r="1.45" fill="#6d6d11" fill-opacity="0.85"/>
<circle cx="404.00" cy="175.21" r="1.45" fill="#6d6d11" fill-opacity="0.85"/>
<circle cx="385.09" cy="174.04" r="1.45" fill="#6d6d11" fill-opacity="0.85"/>
<circle cx="359.82" cy="174.29" r="1.45" fill="#6d6d11" fill-opacity="0.85"/>
<circle cx="376.32" cy="173.81" r="1.45" fill="#6d6d11" fill-opacity="0.85"/>
<circle cx="388.49" cy="175.46" r="1.45" fill="#6d6d11" fill-opacity="0.85"/>
<circle cx="427.11" cy="174.21" r="1.45" fill="#6d6d11" fill-opacity="0.85"/>
<circle cx="383.00" cy="173.79" r="1.45" fill="#6d6d11" fill-opacity="0.85"/>
<circle cx="383.18" cy="173.40" r="1.45" fill="#6d6d11" fill-opacity="0.85"/>
<circle cx="412.21" cy="174.25" r="1.45" fill="#6d6d11" fill-opacity="0.85"/>
<circle cx="386.35" cy="175.78" r="1.45" fill="#6d6d11" fill-opacity="0.85"/>
<circle cx="382.73" cy="173.48" r="1.45" fill="#6d6d11" fill-opacity="0.85"/>
<circle cx="367.63" cy="172.72" r="1.45" fill="#6d6d11" fill-opacity="0.85"/>
<circle cx="393.92" cy="173.90" r="1.45" fill="#6d6d11" fill-opacity="0.85"/>
<circle cx="394.37" cy="173.88" r="1.45" fill="#6d6d11" fill-opacity="0.85"/>
<circle cx="405.89" cy="175.84" r="1.45" fill="#6d6d11" fill-opacity="0.85"/>
<circle cx="393.23" cy="174.53" r="1.45" fill="#6d6d11" fill-opacity="0.85"/>
<circle cx="379.47" cy="174.65" r="1.45" fill="#6d6d11" fill-opacity="0.85"/>
<circle cx="356.04" cy="173.69" r="1.45" fill="#6d6d11" fill-opacity="0.85"/>
<circle cx="396.03" cy="174.06" r="1.45" fill="#6d6d11" fill-opacity="0.85"/>
<circle cx="375.53" cy="174.46" r="1.45" fill="#6d6d11" fill-opacity="0.85"/>
<circle cx="383.69" cy="174.38" r="1.45" fill="#6d6d11" fill-opacity="0.85"/>
<circle cx="397.40" cy="174.30" r="1.45" fill="#6d6d11" fill-opacity="0.85"/>
<circle cx="399.10" cy="176.07" r="1.45" fill="#6d6d11" fill-opacity="0.85"/>
<circle cx="381.38" cy="174.75" r="1.45" fill="#6d6d11" fill-opacity="0.85"/>
<circle cx="372.34" cy="173.87" r="1.45" fill="#6d6d11" fill-opacity="0.85"/>
<circle cx="397.18" cy="175.23" r="1.45" fill="#6d6d11" fill-opacity="0.85"/>
<circle cx="392.38" cy="173.13" r="1.45" fill="#6d6d11" fill-opacity="0.85"/>
<circle cx="437.60" cy="173.01" r="1.45" fill="#6d6d11" fill-opacity="0.85"/>
<circle cx="359.90" cy="174.00" r="1.45" fill="#6d6d11" fill-opacity="0.85"/>
<circle cx="393.82" cy="174.51" r="1.45" fill="#6d6d11" fill-opacity="0.85"/>
<circle cx="382.50" cy="174.85" r="1.45" fill="#6d6d11" fill-opacity="0.85"/>
<circle cx="338.48" cy="173.01" r="1.45" fill="#6d6d11" fill-opacity="0.85"/>
<circle cx="358.91" cy="174.93" r="1.45" fill="#6d6d11" fill-opacity="0.85"/>
<circle cx="394.93" cy="175.96" r="1.45" fill="#6d6d11" fill-opacity="0.85"/>
<circle cx="372.55" cy="173.49" r="1.45" fill="#6d6d11" fill-opacity="0.85"/>
<circle cx="401.58" cy="174.01" r="1.45" fill="#6d6d11" fill-opacity="0.85"/>
<circle cx="400.67" cy="174.43" r="1.45" fill="#6d6d11" fill-opacity="0.85"/>
<circle cx="407.44" cy="175.45" r="1.45" fill="#6d6d11" fill-opacity="0.85"/>
<circle cx="351.32" cy="175.66" r="1.45" fill="#6d6d11" fill-opacity="0.85"/>
<circle cx="382.00" cy="174.93" r="1.45" fill="#6d6d11" fill-opacity="0.85"/>
<circle cx="391.19" cy="174.63" r="1.45" fill="#6d6d11" fill-opacity="0.85"/>
<circle cx="405.41" cy="173.28" r="1.45" fill="#6d6d11" fill-opacity="0.85"/>
<circle cx="383.68" cy="174.48" r="1.45" fill="#6d6d11" fill-opacity="0.85"/>
<circle cx="405.66" cy="172.89" r="1.45" fill="#6d6d11" fill-opacity="0.85"/>
<circle cx="287.80" cy="173.00" r="1.5" fill="#6d6d11"/>
<circle cx="463.80" cy="173.30" r="1.5" fill="#6d6d11"/>
<circle cx="474.20" cy="175.46" r="1.5" fill="#6d6d11"/>
<text x="258.70" y="176.70" font-size="7.5" text-anchor="end" fill="#1e1e1e" font-weight="normal" stroke="#1e1e1e" stroke-width="0.06" >FLT3</text>
<line x1="262.4" y1="174.40" x2="265.6" y2="174.40" stroke="#2a2a2a" stroke-width="1.2"/>
<path d="M337.00,187.55 C337.08,187.42 334.50,187.00 337.50,186.75 C340.50,186.50 349.25,186.55 355.00,186.05 C360.75,185.55 365.83,184.37 372.00,183.75 C378.17,183.13 386.33,182.48 392.00,182.35 C397.67,182.22 403.22,182.67 406.00,182.95 C408.78,183.23 408.23,183.28 408.70,184.05 C409.17,184.82 408.78,186.97 408.80,187.55 C408.82,188.13 408.82,186.97 408.80,187.55 C408.78,188.13 409.17,190.28 408.70,191.05 C408.23,191.82 408.78,191.87 406.00,192.15 C403.22,192.43 397.67,192.88 392.00,192.75 C386.33,192.62 378.17,191.97 372.00,191.35 C365.83,190.73 360.75,189.55 355.00,189.05 C349.25,188.55 340.50,188.60 337.50,188.35 C334.50,188.10 337.08,187.68 337.00,187.55 Z" fill="#c4d88e" fill-opacity="0.85" stroke="#8d9b66" stroke-width="0.7" stroke-opacity="0.85"/>
<line x1="337.00" y1="187.55" x2="408.70" y2="187.55" stroke="#546d11" stroke-width="1.0"/>
<rect x="372.30" y="185.55" width="24.00" height="4.0" fill="#ffffff" fill-opacity="0.35" stroke="#546d11" stroke-width="1.05"/>
<line x1="385.00" y1="185.55" x2="385.00" y2="189.55" stroke="#546d11" stroke-width="1.0"/>
<circle cx="337.00" cy="186.68" r="1.45" fill="#546d11" fill-opacity="0.85"/>
<circle cx="408.70" cy="187.29" r="1.45" fill="#546d11" fill-opacity="0.85"/>
<circle cx="395.40" cy="185.87" r="1.45" fill="#546d11" fill-opacity="0.85"/>
<circle cx="403.28" cy="186.28" r="1.45" fill="#546d11" fill-opacity="0.85"/>
<text x="258.70" y="189.85" font-size="7.5" text-anchor="end" fill="#1e1e1e" font-weight="normal" stroke="#1e1e1e" stroke-width="0.06" >RUNX1</text>
<line x1="262.4" y1="187.55" x2="265.6" y2="187.55" stroke="#2a2a2a" stroke-width="1.2"/>
<path d="M356.50,200.70 C356.58,200.47 354.75,199.97 357.00,199.30 C359.25,198.63 364.83,197.33 370.00,196.70 C375.17,196.07 382.17,195.43 388.00,195.50 C393.83,195.57 398.83,196.53 405.00,197.10 C411.17,197.67 418.55,198.45 425.00,198.90 C431.45,199.35 440.57,199.50 443.70,199.80 C446.83,200.10 443.78,200.55 443.80,200.70 C443.82,200.85 443.82,200.55 443.80,200.70 C443.78,200.85 446.83,201.30 443.70,201.60 C440.57,201.90 431.45,202.05 425.00,202.50 C418.55,202.95 411.17,203.73 405.00,204.30 C398.83,204.87 393.83,205.83 388.00,205.90 C382.17,205.97 375.17,205.33 370.00,204.70 C364.83,204.07 359.25,202.77 357.00,202.10 C354.75,201.43 356.58,200.93 356.50,200.70 Z" fill="#a2cc86" fill-opacity="0.85" stroke="#749260" stroke-width="0.7" stroke-opacity="0.85"/>
<line x1="356.50" y1="200.70" x2="443.70" y2="200.70" stroke="#366d11" stroke-width="1.0"/>
<rect x="374.00" y="198.70" width="45.00" height="4.0" fill="#ffffff" fill-opacity="0.35" stroke="#366d11" stroke-width="1.05"/>
<line x1="395.00" y1="198.70" x2="395.00" y2="202.70" stroke="#366d11" stroke-width="1.0"/>
<circle cx="356.50" cy="201.56" r="1.45" fill="#366d11" fill-opacity="0.85"/>
<circle cx="443.70" cy="200.03" r="1.45" fill="#366d11" fill-opacity="0.85"/>
<circle cx="373.90" cy="202.39" r="1.45" fill="#366d11" fill-opacity="0.85"/>
<circle cx="373.25" cy="201.87" r="1.45" fill="#366d11" fill-opacity="0.85"/>
<circle cx="376.08" cy="202.08" r="1.45" fill="#366d11" fill-opacity="0.85"/>
<circle cx="394.06" cy="200.14" r="1.45" fill="#366d11" fill-opacity="0.85"/>
<circle cx="405.54" cy="202.34" r="1.45" fill="#366d11" fill-opacity="0.85"/>
<circle cx="412.85" cy="201.69" r="1.45" fill="#366d11" fill-opacity="0.85"/>
<circle cx="387.03" cy="199.39" r="1.45" fill="#366d11" fill-opacity="0.85"/>
<circle cx="389.81" cy="202.38" r="1.45" fill="#366d11" fill-opacity="0.85"/>
<circle cx="396.40" cy="199.36" r="1.45" fill="#366d11" fill-opacity="0.85"/>
<circle cx="379.34" cy="202.47" r="1.45" fill="#366d11" fill-opacity="0.85"/>
<circle cx="405.01" cy="199.96" r="1.45" fill="#366d11" fill-opacity="0.85"/>
<circle cx="378.12" cy="199.84" r="1.45" fill="#366d11" fill-opacity="0.85"/>
<circle cx="424.32" cy="200.82" r="1.45" fill="#366d11" fill-opacity="0.85"/>
<circle cx="395.82" cy="199.04" r="1.45" fill="#366d11" fill-opacity="0.85"/>
<text x="258.70" y="203.00" font-size="7.5" text-anchor="end" fill="#1e1e1e" font-weight="normal" stroke="#1e1e1e" stroke-width="0.06" >WT1</text>
<line x1="262.4" y1="200.70" x2="265.6" y2="200.70" stroke="#2a2a2a" stroke-width="1.2"/>
<path d="M349.00,213.85 C349.08,213.25 347.33,211.12 349.50,210.25 C351.67,209.38 356.42,208.85 362.00,208.65 C367.58,208.45 377.33,208.68 383.00,209.05 C388.67,209.42 390.67,210.22 396.00,210.85 C401.33,211.48 406.17,212.43 415.00,212.85 C423.83,213.27 443.32,213.18 449.00,213.35 C454.68,213.52 449.08,213.77 449.10,213.85 C449.12,213.93 449.12,213.77 449.10,213.85 C449.08,213.93 454.68,214.18 449.00,214.35 C443.32,214.52 423.83,214.43 415.00,214.85 C406.17,215.27 401.33,216.22 396.00,216.85 C390.67,217.48 388.67,218.28 383.00,218.65 C377.33,219.02 367.58,219.25 362.00,219.05 C356.42,218.85 351.67,218.32 349.50,217.45 C347.33,216.58 349.08,214.45 349.00,213.85 Z" fill="#82c282" fill-opacity="0.85" stroke="#5d8b5d" stroke-width="0.7" stroke-opacity="0.85"/>
<line x1="349.00" y1="213.85" x2="449.00" y2="213.85" stroke="#116d11" stroke-width="1.0"/>
<rect x="355.00" y="211.85" width="39.00" height="4.0" fill="#ffffff" fill-opacity="0.35" stroke="#116d11" stroke-width="1.05"/>
<line x1="375.00" y1="211.85" x2="375.00" y2="215.85" stroke="#116d11" stroke-width="1.0"/>
<circle cx="349.00" cy="215.49" r="1.45" fill="#116d11" fill-opacity="0.85"/>
<circle cx="449.00" cy="214.63" r="1.45" fill="#116d11" fill-opacity="0.85"/>
<circle cx="365.49" cy="215.07" r="1.45" fill="#116d11" fill-opacity="0.85"/>
<circle cx="385.24" cy="213.81" r="1.45" fill="#116d11" fill-opacity="0.85"/>
<circle cx="370.96" cy="213.12" r="1.45" fill="#116d11" fill-opacity="0.85"/>
<circle cx="371.76" cy="213.20" r="1.45" fill="#116d11" fill-opacity="0.85"/>
<circle cx="397.10" cy="212.55" r="1.45" fill="#116d11" fill-opacity="0.85"/>
<circle cx="354.58" cy="213.37" r="1.45" fill="#116d11" fill-opacity="0.85"/>
<circle cx="381.67" cy="214.07" r="1.45" fill="#116d11" fill-opacity="0.85"/>
<text x="258.70" y="216.15" font-size="7.5" text-anchor="end" fill="#1e1e1e" font-weight="normal" stroke="#1e1e1e" stroke-width="0.06" >KIT</text>
<line x1="262.4" y1="213.85" x2="265.6" y2="213.85" stroke="#2a2a2a" stroke-width="1.2"/>
<path d="M385.00,227.00 C385.08,226.27 383.00,223.47 385.50,222.60 C388.00,221.73 394.25,221.90 400.00,221.80 C405.75,221.70 415.17,221.80 420.00,222.00 C424.83,222.20 427.25,222.17 429.00,223.00 C430.75,223.83 430.25,226.33 430.50,227.00 C430.75,227.67 430.75,226.33 430.50,227.00 C430.25,227.67 430.75,230.17 429.00,231.00 C427.25,231.83 424.83,231.80 420.00,232.00 C415.17,232.20 405.75,232.30 400.00,232.20 C394.25,232.10 388.00,232.27 385.50,231.40 C383.00,230.53 385.08,227.73 385.00,227.00 Z" fill="#52b282" fill-opacity="0.85" stroke="#3b805d" stroke-width="0.7" stroke-opacity="0.85"/>
<line x1="385.00" y1="227.00" x2="430.50" y2="227.00" stroke="#116d3f" stroke-width="1.0"/>
<rect x="392.50" y="225.00" width="25.00" height="4.0" fill="#ffffff" fill-opacity="0.35" stroke="#116d3f" stroke-width="1.05"/>
<line x1="405.00" y1="225.00" x2="405.00" y2="229.00" stroke="#116d3f" stroke-width="1.0"/>
<circle cx="385.00" cy="226.58" r="1.45" fill="#116d3f" fill-opacity="0.85"/>
<circle cx="430.50" cy="227.66" r="1.45" fill="#116d3f" fill-opacity="0.85"/>
<circle cx="403.38" cy="227.14" r="1.45" fill="#116d3f" fill-opacity="0.85"/>
<circle cx="393.14" cy="228.58" r="1.45" fill="#116d3f" fill-opacity="0.85"/>
<circle cx="419.57" cy="226.96" r="1.45" fill="#116d3f" fill-opacity="0.85"/>
<text x="258.70" y="229.30" font-size="7.5" text-anchor="end" fill="#1e1e1e" font-weight="normal" stroke="#1e1e1e" stroke-width="0.06" >EZH2</text>
<line x1="262.4" y1="227.00" x2="265.6" y2="227.00" stroke="#2a2a2a" stroke-width="1.2"/>
<path d="M372.50,240.15 C372.55,239.52 370.88,237.12 372.80,236.35 C374.72,235.58 380.30,235.42 384.00,235.55 C387.70,235.68 391.67,236.60 395.00,237.15 C398.33,237.70 401.17,238.58 404.00,238.85 C406.83,239.12 409.75,238.68 412.00,238.75 C414.25,238.82 416.57,239.02 417.50,239.25 C418.43,239.48 417.58,240.00 417.60,240.15 C417.62,240.30 417.62,240.00 417.60,240.15 C417.58,240.30 418.43,240.82 417.50,241.05 C416.57,241.28 414.25,241.48 412.00,241.55 C409.75,241.62 406.83,241.18 404.00,241.45 C401.17,241.72 398.33,242.60 395.00,243.15 C391.67,243.70 387.70,244.62 384.00,244.75 C380.30,244.88 374.72,244.72 372.80,243.95 C370.88,243.18 372.55,240.78 372.50,240.15 Z" fill="#32a47c" fill-opacity="0.85" stroke="#247659" stroke-width="0.7" stroke-opacity="0.85"/>
<line x1="372.50" y1="240.15" x2="417.50" y2="240.15" stroke="#116d4d" stroke-width="1.0"/>
<rect x="374.00" y="238.15" width="32.00" height="4.0" fill="#ffffff" fill-opacity="0.35" stroke="#116d4d" stroke-width="1.05"/>
<line x1="385.00" y1="238.15" x2="385.00" y2="242.15" stroke="#116d4d" stroke-width="1.0"/>
<circle cx="372.50" cy="238.62" r="1.45" fill="#116d4d" fill-opacity="0.85"/>
<circle cx="417.50" cy="239.61" r="1.45" fill="#116d4d" fill-opacity="0.85"/>
<circle cx="409.45" cy="241.28" r="1.45" fill="#116d4d" fill-opacity="0.85"/>
<circle cx="388.88" cy="238.99" r="1.45" fill="#116d4d" fill-opacity="0.85"/>
<circle cx="394.28" cy="239.91" r="1.45" fill="#116d4d" fill-opacity="0.85"/>
<circle cx="384.87" cy="238.48" r="1.45" fill="#116d4d" fill-opacity="0.85"/>
<text x="258.70" y="242.45" font-size="7.5" text-anchor="end" fill="#1e1e1e" font-weight="normal" stroke="#1e1e1e" stroke-width="0.06" >NF1</text>
<line x1="262.4" y1="240.15" x2="265.6" y2="240.15" stroke="#2a2a2a" stroke-width="1.2"/>
<path d="M332.50,253.30 C332.67,253.13 330.58,252.80 333.50,252.30 C336.42,251.80 343.58,250.80 350.00,250.30 C356.42,249.80 364.83,249.67 372.00,249.30 C379.17,248.93 387.50,248.17 393.00,248.10 C398.50,248.03 402.17,248.03 405.00,248.90 C407.83,249.77 409.17,252.57 410.00,253.30 C410.83,254.03 410.83,252.57 410.00,253.30 C409.17,254.03 407.83,256.83 405.00,257.70 C402.17,258.57 398.50,258.57 393.00,258.50 C387.50,258.43 379.17,257.67 372.00,257.30 C364.83,256.93 356.42,256.80 350.00,256.30 C343.58,255.80 336.42,254.80 333.50,254.30 C330.58,253.80 332.67,253.47 332.50,253.30 Z" fill="#22a084" fill-opacity="0.85" stroke="#18735f" stroke-width="0.7" stroke-opacity="0.85"/>
<line x1="332.50" y1="253.30" x2="410.00" y2="253.30" stroke="#116d59" stroke-width="1.0"/>
<rect x="351.00" y="251.30" width="49.00" height="4.0" fill="#ffffff" fill-opacity="0.35" stroke="#116d59" stroke-width="1.05"/>
<line x1="375.00" y1="251.30" x2="375.00" y2="255.30" stroke="#116d59" stroke-width="1.0"/>
<circle cx="332.50" cy="254.82" r="1.45" fill="#116d59" fill-opacity="0.85"/>
<circle cx="410.00" cy="252.35" r="1.45" fill="#116d59" fill-opacity="0.85"/>
<circle cx="388.46" cy="252.22" r="1.45" fill="#116d59" fill-opacity="0.85"/>
<circle cx="375.12" cy="253.75" r="1.45" fill="#116d59" fill-opacity="0.85"/>
<circle cx="370.86" cy="254.72" r="1.45" fill="#116d59" fill-opacity="0.85"/>
<circle cx="366.06" cy="254.85" r="1.45" fill="#116d59" fill-opacity="0.85"/>
<circle cx="389.13" cy="254.36" r="1.45" fill="#116d59" fill-opacity="0.85"/>
<circle cx="391.47" cy="253.67" r="1.45" fill="#116d59" fill-opacity="0.85"/>
<circle cx="382.60" cy="252.79" r="1.45" fill="#116d59" fill-opacity="0.85"/>
<circle cx="354.02" cy="254.34" r="1.45" fill="#116d59" fill-opacity="0.85"/>
<circle cx="385.92" cy="253.79" r="1.45" fill="#116d59" fill-opacity="0.85"/>
<circle cx="401.79" cy="254.66" r="1.45" fill="#116d59" fill-opacity="0.85"/>
<circle cx="398.59" cy="254.22" r="1.45" fill="#116d59" fill-opacity="0.85"/>
<circle cx="338.98" cy="253.27" r="1.45" fill="#116d59" fill-opacity="0.85"/>
<circle cx="379.86" cy="253.83" r="1.45" fill="#116d59" fill-opacity="0.85"/>
<circle cx="384.18" cy="252.23" r="1.45" fill="#116d59" fill-opacity="0.85"/>
<text x="258.70" y="255.60" font-size="7.5" text-anchor="end" fill="#1e1e1e" font-weight="normal" stroke="#1e1e1e" stroke-width="0.06" >NRAS</text>
<line x1="262.4" y1="253.30" x2="265.6" y2="253.30" stroke="#2a2a2a" stroke-width="1.2"/>
<path d="M367.00,266.45 C367.08,266.20 367.17,265.02 367.50,264.95 C367.83,264.88 367.92,265.90 369.00,266.05 C370.08,266.20 372.33,266.62 374.00,265.85 C375.67,265.08 377.33,261.40 379.00,261.45 C380.67,261.50 383.15,265.32 384.00,266.15 C384.85,266.98 384.08,266.40 384.10,266.45 C384.12,266.50 384.12,266.40 384.10,266.45 C384.08,266.50 384.85,265.92 384.00,266.75 C383.15,267.58 380.67,271.40 379.00,271.45 C377.33,271.50 375.67,267.82 374.00,267.05 C372.33,266.28 370.08,266.70 369.00,266.85 C367.92,267.00 367.83,268.02 367.50,267.95 C367.17,267.88 367.08,266.70 367.00,266.45 Z" fill="#1a9284" fill-opacity="0.85" stroke="#12695f" stroke-width="0.7" stroke-opacity="0.85"/>
<line x1="367.50" y1="266.45" x2="384.00" y2="266.45" stroke="#116d62" stroke-width="1.0"/>
<rect x="375.00" y="264.45" width="8.00" height="4.0" fill="#ffffff" fill-opacity="0.35" stroke="#116d62" stroke-width="1.05"/>
<line x1="380.00" y1="264.45" x2="380.00" y2="268.45" stroke="#116d62" stroke-width="1.0"/>
<circle cx="367.50" cy="266.17" r="1.45" fill="#116d62" fill-opacity="0.85"/>
<circle cx="384.00" cy="266.73" r="1.45" fill="#116d62" fill-opacity="0.85"/>
<circle cx="376.00" cy="266.38" r="1.45" fill="#116d62" fill-opacity="0.85"/>
<circle cx="379.19" cy="265.58" r="1.45" fill="#116d62" fill-opacity="0.85"/>
<circle cx="377.53" cy="267.13" r="1.45" fill="#116d62" fill-opacity="0.85"/>
<path d="M435.8,266.25 L438.6,263.85 L440.2,266.05 L438.4,268.65 Z" fill="#1a9284" fill-opacity="0.85"/>
<circle cx="438.00" cy="265.79" r="1.5" fill="#116d62"/>
<text x="258.70" y="268.75" font-size="7.5" text-anchor="end" fill="#1e1e1e" font-weight="normal" stroke="#1e1e1e" stroke-width="0.06" >KRAS</text>
<line x1="262.4" y1="266.45" x2="265.6" y2="266.45" stroke="#2a2a2a" stroke-width="1.2"/>
<path d="M336.00,279.60 C336.13,278.97 335.30,276.63 336.80,275.80 C338.30,274.97 341.13,274.80 345.00,274.60 C348.87,274.40 355.58,274.60 360.00,274.60 C364.42,274.60 369.57,273.77 371.50,274.60 C373.43,275.43 371.58,278.77 371.60,279.60 C371.62,280.43 371.62,278.77 371.60,279.60 C371.58,280.43 373.43,283.77 371.50,284.60 C369.57,285.43 364.42,284.60 360.00,284.60 C355.58,284.60 348.87,284.80 345.00,284.60 C341.13,284.40 338.30,284.23 336.80,283.40 C335.30,282.57 336.13,280.23 336.00,279.60 Z" fill="#1c8e8c" fill-opacity="0.85" stroke="#146664" stroke-width="0.7" stroke-opacity="0.85"/>
<line x1="336.00" y1="279.60" x2="371.50" y2="279.60" stroke="#116d6c" stroke-width="1.0"/>
<rect x="338.00" y="277.60" width="33.00" height="4.0" fill="#ffffff" fill-opacity="0.35" stroke="#116d6c" stroke-width="1.05"/>
<line x1="352.00" y1="277.60" x2="352.00" y2="281.60" stroke="#116d6c" stroke-width="1.0"/>
<circle cx="336.00" cy="280.20" r="1.45" fill="#116d6c" fill-opacity="0.85"/>
<circle cx="371.50" cy="281.16" r="1.45" fill="#116d6c" fill-opacity="0.85"/>
<circle cx="356.02" cy="278.92" r="1.45" fill="#116d6c" fill-opacity="0.85"/>
<circle cx="350.49" cy="281.22" r="1.45" fill="#116d6c" fill-opacity="0.85"/>
<text x="258.70" y="281.90" font-size="7.5" text-anchor="end" fill="#1e1e1e" font-weight="normal" stroke="#1e1e1e" stroke-width="0.06" >PTPN11</text>
<line x1="262.4" y1="279.60" x2="265.6" y2="279.60" stroke="#2a2a2a" stroke-width="1.2"/>
<line x1="386.5" y1="36" x2="386.5" y2="287" stroke="#222" stroke-width="1.2" stroke-dasharray="3.4,2.6"/>
<line x1="265.6" y1="35.2" x2="265.6" y2="287.6" stroke="#111" stroke-width="1.1"/>
<line x1="265.1" y1="287.6" x2="509.4" y2="287.6" stroke="#111" stroke-width="1.1"/>
<line x1="266.40" y1="287.6" x2="266.40" y2="290.8" stroke="#2a2a2a" stroke-width="1.2"/>
<text x="266.90" y="300.40" font-size="7.4" text-anchor="middle" fill="#2a2a2a" font-weight="normal" stroke="#2a2a2a" stroke-width="0.06" >&#8722;100</text>
<line x1="326.45" y1="287.6" x2="326.45" y2="290.8" stroke="#2a2a2a" stroke-width="1.2"/>
<text x="326.95" y="300.40" font-size="7.4" text-anchor="middle" fill="#2a2a2a" font-weight="normal" stroke="#2a2a2a" stroke-width="0.06" >&#8722;50</text>
<line x1="386.50" y1="287.6" x2="386.50" y2="290.8" stroke="#2a2a2a" stroke-width="1.2"/>
<text x="386.50" y="300.40" font-size="7.4" text-anchor="middle" fill="#2a2a2a" font-weight="normal" stroke="#2a2a2a" stroke-width="0.06" >0</text>
<line x1="446.55" y1="287.6" x2="446.55" y2="290.8" stroke="#2a2a2a" stroke-width="1.2"/>
<text x="446.55" y="300.40" font-size="7.4" text-anchor="middle" fill="#2a2a2a" font-weight="normal" stroke="#2a2a2a" stroke-width="0.06" >50</text>
<line x1="506.60" y1="287.6" x2="506.60" y2="290.8" stroke="#2a2a2a" stroke-width="1.2"/>
<text x="506.60" y="300.40" font-size="7.4" text-anchor="middle" fill="#2a2a2a" font-weight="normal" stroke="#2a2a2a" stroke-width="0.06" >100</text>
<text x="348.70" y="313.10" font-size="8.4" text-anchor="start" fill="#1e1e1e" font-weight="normal" textLength="76" lengthAdjust="spacingAndGlyphs" stroke="#1e1e1e" stroke-width="0.3" >&#916;VAF % (REL1 - diagnosis)</text>
<line x1="44.50" y1="355.5" x2="44.50" y2="472.5" stroke="#111" stroke-width="1.1"/>
<line x1="44.00" y1="472.5" x2="161.22" y2="472.5" stroke="#111" stroke-width="1.1"/>
<line x1="41.50" y1="466.90" x2="44.50" y2="466.90" stroke="#2a2a2a" stroke-width="1.2"/>
<text x="38.20" y="469.60" font-size="7.5" text-anchor="end" fill="#2a2a2a" font-weight="normal" stroke="#2a2a2a" stroke-width="0.06" >0</text>
<line x1="49.60" y1="472.5" x2="49.60" y2="475.7" stroke="#2a2a2a" stroke-width="1.2"/>
<text x="49.60" y="485.10" font-size="7.5" text-anchor="middle" fill="#2a2a2a" font-weight="normal" stroke="#2a2a2a" stroke-width="0.06" >0</text>
<line x1="41.50" y1="440.38" x2="44.50" y2="440.38" stroke="#2a2a2a" stroke-width="1.2"/>
<text x="38.20" y="443.07" font-size="7.5" text-anchor="end" fill="#2a2a2a" font-weight="normal" stroke="#2a2a2a" stroke-width="0.06" >25</text>
<line x1="76.17" y1="472.5" x2="76.17" y2="475.7" stroke="#2a2a2a" stroke-width="1.2"/>
<text x="76.17" y="485.10" font-size="7.5" text-anchor="middle" fill="#2a2a2a" font-weight="normal" stroke="#2a2a2a" stroke-width="0.06" >25</text>
<line x1="41.50" y1="413.85" x2="44.50" y2="413.85" stroke="#2a2a2a" stroke-width="1.2"/>
<text x="38.20" y="416.55" font-size="7.5" text-anchor="end" fill="#2a2a2a" font-weight="normal" stroke="#2a2a2a" stroke-width="0.06" >50</text>
<line x1="102.75" y1="472.5" x2="102.75" y2="475.7" stroke="#2a2a2a" stroke-width="1.2"/>
<text x="102.75" y="485.10" font-size="7.5" text-anchor="middle" fill="#2a2a2a" font-weight="normal" stroke="#2a2a2a" stroke-width="0.06" >50</text>
<line x1="41.50" y1="387.32" x2="44.50" y2="387.32" stroke="#2a2a2a" stroke-width="1.2"/>
<text x="38.20" y="390.02" font-size="7.5" text-anchor="end" fill="#2a2a2a" font-weight="normal" stroke="#2a2a2a" stroke-width="0.06" >75</text>
<line x1="129.32" y1="472.5" x2="129.32" y2="475.7" stroke="#2a2a2a" stroke-width="1.2"/>
<text x="129.32" y="485.10" font-size="7.5" text-anchor="middle" fill="#2a2a2a" font-weight="normal" stroke="#2a2a2a" stroke-width="0.06" >75</text>
<line x1="41.50" y1="360.80" x2="44.50" y2="360.80" stroke="#2a2a2a" stroke-width="1.2"/>
<text x="38.20" y="363.50" font-size="7.5" text-anchor="end" fill="#2a2a2a" font-weight="normal" stroke="#2a2a2a" stroke-width="0.06" >100</text>
<line x1="155.90" y1="472.5" x2="155.90" y2="475.7" stroke="#2a2a2a" stroke-width="1.2"/>
<text x="155.90" y="485.10" font-size="7.5" text-anchor="middle" fill="#2a2a2a" font-weight="normal" stroke="#2a2a2a" stroke-width="0.06" >100</text>
<line x1="44.50" y1="472.5" x2="161.22" y2="355.50" stroke="#1a1a1a" stroke-width="1.25" stroke-dasharray="3.6,2.6"/>
<circle cx="49.60" cy="424.21" r="3.0" fill="#6a52ae" fill-opacity="0.75" stroke="#3e2e78" stroke-width="0.85" stroke-opacity="0.85"/>
<circle cx="49.60" cy="430.61" r="3.0" fill="#6a52ae" fill-opacity="0.75" stroke="#3e2e78" stroke-width="0.85" stroke-opacity="0.85"/>
<circle cx="65.11" cy="441.71" r="3.0" fill="#6a52ae" fill-opacity="0.75" stroke="#3e2e78" stroke-width="0.85" stroke-opacity="0.85"/>
<circle cx="72.48" cy="422.07" r="3.0" fill="#6a52ae" fill-opacity="0.75" stroke="#3e2e78" stroke-width="0.85" stroke-opacity="0.85"/>
<circle cx="77.94" cy="444.49" r="3.0" fill="#6a52ae" fill-opacity="0.75" stroke="#3e2e78" stroke-width="0.85" stroke-opacity="0.85"/>
<circle cx="89.17" cy="466.90" r="3.0" fill="#6a52ae" fill-opacity="0.75" stroke="#3e2e78" stroke-width="0.85" stroke-opacity="0.85"/>
<circle cx="91.84" cy="466.90" r="3.0" fill="#6a52ae" fill-opacity="0.75" stroke="#3e2e78" stroke-width="0.85" stroke-opacity="0.85"/>
<circle cx="92.38" cy="415.67" r="3.0" fill="#6a52ae" fill-opacity="0.75" stroke="#3e2e78" stroke-width="0.85" stroke-opacity="0.85"/>
<circle cx="92.38" cy="422.07" r="3.0" fill="#6a52ae" fill-opacity="0.75" stroke="#3e2e78" stroke-width="0.85" stroke-opacity="0.85"/>
<circle cx="100.93" cy="417.27" r="3.0" fill="#6a52ae" fill-opacity="0.75" stroke="#3e2e78" stroke-width="0.85" stroke-opacity="0.85"/>
<circle cx="102.00" cy="431.14" r="3.0" fill="#6a52ae" fill-opacity="0.75" stroke="#3e2e78" stroke-width="0.85" stroke-opacity="0.85"/>
<circle cx="97.72" cy="421.00" r="3.0" fill="#6a52ae" fill-opacity="0.75" stroke="#3e2e78" stroke-width="0.85" stroke-opacity="0.85"/>
<circle cx="49.60" cy="457.61" r="3.0" fill="#74c4a4" fill-opacity="0.75" stroke="#3a8a6a" stroke-width="0.85" stroke-opacity="0.85"/>
<circle cx="95.58" cy="451.96" r="3.0" fill="#74c4a4" fill-opacity="0.75" stroke="#3a8a6a" stroke-width="0.85" stroke-opacity="0.85"/>
<circle cx="119.11" cy="413.10" r="3.0" fill="#74c4a4" fill-opacity="0.75" stroke="#3a8a6a" stroke-width="0.85" stroke-opacity="0.85"/>
<circle cx="95.58" cy="419.94" r="3.0" fill="#74c4a4" fill-opacity="0.75" stroke="#3a8a6a" stroke-width="0.85" stroke-opacity="0.85"/>
<text x="102.15" y="497.90" font-size="9.2" text-anchor="middle" fill="#1a1a1a" font-weight="normal" textLength="45.5" lengthAdjust="spacingAndGlyphs" stroke="#1a1a1a" stroke-width="0.4" >Diagnosis VAF%</text>
<text x="0" y="0" font-size="9.2" fill="#1a1a1a" stroke="#1a1a1a" stroke-width="0.4" text-anchor="middle" textLength="33.4" lengthAdjust="spacingAndGlyphs" transform="translate(19.70,413.4) rotate(-90)">REL1 VAF%</text>
<text x="51.50" y="361.70" font-size="7.6" text-anchor="start" fill="#4c9c80" font-weight="normal" stroke="#4c9c80" stroke-width="0.1" >IDH1</text>
<text x="51.50" y="373.20" font-size="7.6" text-anchor="start" fill="#5e4c98" font-weight="normal" stroke="#5e4c98" stroke-width="0.1" >IDH2</text>
<line x1="210.60" y1="355.5" x2="210.60" y2="472.5" stroke="#111" stroke-width="1.1"/>
<line x1="210.10" y1="472.5" x2="327.42" y2="472.5" stroke="#111" stroke-width="1.1"/>
<line x1="207.60" y1="466.90" x2="210.60" y2="466.90" stroke="#2a2a2a" stroke-width="1.2"/>
<text x="204.30" y="469.60" font-size="7.5" text-anchor="end" fill="#2a2a2a" font-weight="normal" stroke="#2a2a2a" stroke-width="0.06" >0</text>
<line x1="215.80" y1="472.5" x2="215.80" y2="475.7" stroke="#2a2a2a" stroke-width="1.2"/>
<text x="215.80" y="485.10" font-size="7.5" text-anchor="middle" fill="#2a2a2a" font-weight="normal" stroke="#2a2a2a" stroke-width="0.06" >0</text>
<line x1="207.60" y1="440.38" x2="210.60" y2="440.38" stroke="#2a2a2a" stroke-width="1.2"/>
<text x="204.30" y="443.07" font-size="7.5" text-anchor="end" fill="#2a2a2a" font-weight="normal" stroke="#2a2a2a" stroke-width="0.06" >25</text>
<line x1="242.38" y1="472.5" x2="242.38" y2="475.7" stroke="#2a2a2a" stroke-width="1.2"/>
<text x="242.38" y="485.10" font-size="7.5" text-anchor="middle" fill="#2a2a2a" font-weight="normal" stroke="#2a2a2a" stroke-width="0.06" >25</text>
<line x1="207.60" y1="413.85" x2="210.60" y2="413.85" stroke="#2a2a2a" stroke-width="1.2"/>
<text x="204.30" y="416.55" font-size="7.5" text-anchor="end" fill="#2a2a2a" font-weight="normal" stroke="#2a2a2a" stroke-width="0.06" >50</text>
<line x1="268.95" y1="472.5" x2="268.95" y2="475.7" stroke="#2a2a2a" stroke-width="1.2"/>
<text x="268.95" y="485.10" font-size="7.5" text-anchor="middle" fill="#2a2a2a" font-weight="normal" stroke="#2a2a2a" stroke-width="0.06" >50</text>
<line x1="207.60" y1="387.32" x2="210.60" y2="387.32" stroke="#2a2a2a" stroke-width="1.2"/>
<text x="204.30" y="390.02" font-size="7.5" text-anchor="end" fill="#2a2a2a" font-weight="normal" stroke="#2a2a2a" stroke-width="0.06" >75</text>
<line x1="295.52" y1="472.5" x2="295.52" y2="475.7" stroke="#2a2a2a" stroke-width="1.2"/>
<text x="295.52" y="485.10" font-size="7.5" text-anchor="middle" fill="#2a2a2a" font-weight="normal" stroke="#2a2a2a" stroke-width="0.06" >75</text>
<line x1="207.60" y1="360.80" x2="210.60" y2="360.80" stroke="#2a2a2a" stroke-width="1.2"/>
<text x="204.30" y="363.50" font-size="7.5" text-anchor="end" fill="#2a2a2a" font-weight="normal" stroke="#2a2a2a" stroke-width="0.06" >100</text>
<line x1="322.10" y1="472.5" x2="322.10" y2="475.7" stroke="#2a2a2a" stroke-width="1.2"/>
<text x="322.10" y="485.10" font-size="7.5" text-anchor="middle" fill="#2a2a2a" font-weight="normal" stroke="#2a2a2a" stroke-width="0.06" >100</text>
<line x1="210.60" y1="472.5" x2="327.42" y2="355.50" stroke="#1a1a1a" stroke-width="1.25" stroke-dasharray="3.6,2.6"/>
<circle cx="221.90" cy="466.90" r="3.0" fill="#dcc060" fill-opacity="0.75" stroke="#a08830" stroke-width="0.85" stroke-opacity="0.85"/>
<circle cx="242.00" cy="441.82" r="3.0" fill="#dcc060" fill-opacity="0.75" stroke="#a08830" stroke-width="0.85" stroke-opacity="0.85"/>
<circle cx="243.82" cy="446.19" r="3.0" fill="#dcc060" fill-opacity="0.75" stroke="#a08830" stroke-width="0.85" stroke-opacity="0.85"/>
<circle cx="245.74" cy="449.93" r="3.0" fill="#60a4d8" fill-opacity="0.75" stroke="#3070a8" stroke-width="0.85" stroke-opacity="0.85"/>
<circle cx="249.49" cy="420.58" r="3.0" fill="#60a4d8" fill-opacity="0.75" stroke="#3070a8" stroke-width="0.85" stroke-opacity="0.85"/>
<circle cx="251.41" cy="414.92" r="3.0" fill="#60a4d8" fill-opacity="0.75" stroke="#3070a8" stroke-width="0.85" stroke-opacity="0.85"/>
<circle cx="251.41" cy="438.08" r="3.0" fill="#e870a8" fill-opacity="0.75" stroke="#b04070" stroke-width="0.85" stroke-opacity="0.85"/>
<circle cx="255.79" cy="443.63" r="3.0" fill="#60a4d8" fill-opacity="0.75" stroke="#3070a8" stroke-width="0.85" stroke-opacity="0.85"/>
<circle cx="260.71" cy="452.38" r="3.0" fill="#dcc060" fill-opacity="0.75" stroke="#a08830" stroke-width="0.85" stroke-opacity="0.85"/>
<circle cx="261.46" cy="454.95" r="3.0" fill="#dcc060" fill-opacity="0.75" stroke="#a08830" stroke-width="0.85" stroke-opacity="0.85"/>
<circle cx="259.64" cy="466.90" r="3.0" fill="#60a4d8" fill-opacity="0.75" stroke="#3070a8" stroke-width="0.85" stroke-opacity="0.85"/>
<circle cx="262.64" cy="466.90" r="3.0" fill="#dcc060" fill-opacity="0.75" stroke="#a08830" stroke-width="0.85" stroke-opacity="0.85"/>
<circle cx="273.33" cy="444.27" r="3.0" fill="#60a4d8" fill-opacity="0.75" stroke="#3070a8" stroke-width="0.85" stroke-opacity="0.85"/>
<circle cx="282.10" cy="443.63" r="3.0" fill="#60a4d8" fill-opacity="0.75" stroke="#3070a8" stroke-width="0.85" stroke-opacity="0.85"/>
<circle cx="273.33" cy="461.78" r="3.0" fill="#60a4d8" fill-opacity="0.75" stroke="#3070a8" stroke-width="0.85" stroke-opacity="0.85"/>
<circle cx="299.10" cy="438.61" r="3.0" fill="#60a4d8" fill-opacity="0.75" stroke="#3070a8" stroke-width="0.85" stroke-opacity="0.85"/>
<circle cx="317.93" cy="420.47" r="3.0" fill="#60a4d8" fill-opacity="0.75" stroke="#3070a8" stroke-width="0.85" stroke-opacity="0.85"/>
<circle cx="315.25" cy="398.05" r="3.0" fill="#dcc060" fill-opacity="0.75" stroke="#a08830" stroke-width="0.85" stroke-opacity="0.85"/>
<circle cx="316.32" cy="396.99" r="3.0" fill="#dcc060" fill-opacity="0.75" stroke="#a08830" stroke-width="0.85" stroke-opacity="0.85"/>
<circle cx="279.00" cy="404.99" r="3.0" fill="#e870a8" fill-opacity="0.75" stroke="#b04070" stroke-width="0.85" stroke-opacity="0.85"/>
<circle cx="262.10" cy="410.54" r="3.0" fill="#60a4d8" fill-opacity="0.75" stroke="#3070a8" stroke-width="0.85" stroke-opacity="0.85"/>
<circle cx="268.95" cy="409.90" r="3.0" fill="#e870a8" fill-opacity="0.75" stroke="#b04070" stroke-width="0.85" stroke-opacity="0.85"/>
<circle cx="276.54" cy="414.28" r="3.0" fill="#dcc060" fill-opacity="0.75" stroke="#a08830" stroke-width="0.85" stroke-opacity="0.85"/>
<circle cx="259.64" cy="418.01" r="3.0" fill="#60a4d8" fill-opacity="0.75" stroke="#3070a8" stroke-width="0.85" stroke-opacity="0.85"/>
<circle cx="272.69" cy="423.03" r="3.0" fill="#60a4d8" fill-opacity="0.75" stroke="#3070a8" stroke-width="0.85" stroke-opacity="0.85"/>
<circle cx="273.33" cy="426.87" r="3.0" fill="#60a4d8" fill-opacity="0.75" stroke="#3070a8" stroke-width="0.85" stroke-opacity="0.85"/>
<circle cx="268.31" cy="429.33" r="3.0" fill="#60a4d8" fill-opacity="0.75" stroke="#3070a8" stroke-width="0.85" stroke-opacity="0.85"/>
<circle cx="259.64" cy="424.31" r="3.0" fill="#dcc060" fill-opacity="0.75" stroke="#a08830" stroke-width="0.85" stroke-opacity="0.85"/>
<circle cx="267.66" cy="424.95" r="3.0" fill="#dcc060" fill-opacity="0.75" stroke="#a08830" stroke-width="0.85" stroke-opacity="0.85"/>
<circle cx="268.95" cy="418.66" r="3.0" fill="#dcc060" fill-opacity="0.75" stroke="#a08830" stroke-width="0.85" stroke-opacity="0.85"/>
<circle cx="265.21" cy="414.28" r="3.0" fill="#e870a8" fill-opacity="0.75" stroke="#b04070" stroke-width="0.85" stroke-opacity="0.85"/>
<circle cx="261.46" cy="432.42" r="3.0" fill="#e870a8" fill-opacity="0.75" stroke="#b04070" stroke-width="0.85" stroke-opacity="0.85"/>
<circle cx="259.64" cy="437.44" r="3.0" fill="#dcc060" fill-opacity="0.75" stroke="#a08830" stroke-width="0.85" stroke-opacity="0.85"/>
<circle cx="265.21" cy="438.08" r="3.0" fill="#dcc060" fill-opacity="0.75" stroke="#a08830" stroke-width="0.85" stroke-opacity="0.85"/>
<circle cx="265.21" cy="440.54" r="3.0" fill="#dcc060" fill-opacity="0.75" stroke="#a08830" stroke-width="0.85" stroke-opacity="0.85"/>
<circle cx="263.92" cy="421.00" r="3.0" fill="#dcc060" fill-opacity="0.75" stroke="#a08830" stroke-width="0.85" stroke-opacity="0.85"/>
<circle cx="270.34" cy="433.81" r="3.0" fill="#60a4d8" fill-opacity="0.75" stroke="#3070a8" stroke-width="0.85" stroke-opacity="0.85"/>
<circle cx="262.85" cy="428.47" r="3.0" fill="#dcc060" fill-opacity="0.75" stroke="#a08830" stroke-width="0.85" stroke-opacity="0.85"/>
<text x="268.35" y="497.90" font-size="9.2" text-anchor="middle" fill="#1a1a1a" font-weight="normal" textLength="45.5" lengthAdjust="spacingAndGlyphs" stroke="#1a1a1a" stroke-width="0.4" >Diagnosis VAF%</text>
<text x="0" y="0" font-size="9.2" fill="#1a1a1a" stroke="#1a1a1a" stroke-width="0.4" text-anchor="middle" textLength="33.4" lengthAdjust="spacingAndGlyphs" transform="translate(185.80,413.4) rotate(-90)">REL1 VAF%</text>
<text x="219.80" y="361.80" font-size="7.6" text-anchor="start" fill="#d4508a" font-weight="normal" stroke="#d4508a" stroke-width="0.1" >ASXL1</text>
<text x="219.80" y="373.30" font-size="7.6" text-anchor="start" fill="#b09448" font-weight="normal" stroke="#b09448" stroke-width="0.1" >DNMT3A</text>
<text x="219.80" y="384.30" font-size="7.6" text-anchor="start" fill="#5a8cc4" font-weight="normal" stroke="#5a8cc4" stroke-width="0.1" >TET2</text>
<line x1="395.50" y1="355.5" x2="395.50" y2="472.5" stroke="#111" stroke-width="1.1"/>
<line x1="395.00" y1="472.5" x2="511.92" y2="472.5" stroke="#111" stroke-width="1.1"/>
<line x1="392.50" y1="466.90" x2="395.50" y2="466.90" stroke="#2a2a2a" stroke-width="1.2"/>
<text x="389.20" y="469.60" font-size="7.5" text-anchor="end" fill="#2a2a2a" font-weight="normal" stroke="#2a2a2a" stroke-width="0.06" >0</text>
<line x1="400.30" y1="472.5" x2="400.30" y2="475.7" stroke="#2a2a2a" stroke-width="1.2"/>
<text x="400.30" y="485.10" font-size="7.5" text-anchor="middle" fill="#2a2a2a" font-weight="normal" stroke="#2a2a2a" stroke-width="0.06" >0</text>
<line x1="392.50" y1="440.38" x2="395.50" y2="440.38" stroke="#2a2a2a" stroke-width="1.2"/>
<text x="389.20" y="443.07" font-size="7.5" text-anchor="end" fill="#2a2a2a" font-weight="normal" stroke="#2a2a2a" stroke-width="0.06" >25</text>
<line x1="426.88" y1="472.5" x2="426.88" y2="475.7" stroke="#2a2a2a" stroke-width="1.2"/>
<text x="426.88" y="485.10" font-size="7.5" text-anchor="middle" fill="#2a2a2a" font-weight="normal" stroke="#2a2a2a" stroke-width="0.06" >25</text>
<line x1="392.50" y1="413.85" x2="395.50" y2="413.85" stroke="#2a2a2a" stroke-width="1.2"/>
<text x="389.20" y="416.55" font-size="7.5" text-anchor="end" fill="#2a2a2a" font-weight="normal" stroke="#2a2a2a" stroke-width="0.06" >50</text>
<line x1="453.45" y1="472.5" x2="453.45" y2="475.7" stroke="#2a2a2a" stroke-width="1.2"/>
<text x="453.45" y="485.10" font-size="7.5" text-anchor="middle" fill="#2a2a2a" font-weight="normal" stroke="#2a2a2a" stroke-width="0.06" >50</text>
<line x1="392.50" y1="387.32" x2="395.50" y2="387.32" stroke="#2a2a2a" stroke-width="1.2"/>
<text x="389.20" y="390.02" font-size="7.5" text-anchor="end" fill="#2a2a2a" font-weight="normal" stroke="#2a2a2a" stroke-width="0.06" >75</text>
<line x1="480.02" y1="472.5" x2="480.02" y2="475.7" stroke="#2a2a2a" stroke-width="1.2"/>
<text x="480.02" y="485.10" font-size="7.5" text-anchor="middle" fill="#2a2a2a" font-weight="normal" stroke="#2a2a2a" stroke-width="0.06" >75</text>
<line x1="392.50" y1="360.80" x2="395.50" y2="360.80" stroke="#2a2a2a" stroke-width="1.2"/>
<text x="389.20" y="363.50" font-size="7.5" text-anchor="end" fill="#2a2a2a" font-weight="normal" stroke="#2a2a2a" stroke-width="0.06" >100</text>
<line x1="506.60" y1="472.5" x2="506.60" y2="475.7" stroke="#2a2a2a" stroke-width="1.2"/>
<text x="506.60" y="485.10" font-size="7.5" text-anchor="middle" fill="#2a2a2a" font-weight="normal" stroke="#2a2a2a" stroke-width="0.06" >100</text>
<line x1="395.50" y1="472.5" x2="511.92" y2="355.50" stroke="#1a1a1a" stroke-width="1.25" stroke-dasharray="3.6,2.6"/>
<circle cx="453.77" cy="369.98" r="3.0" fill="#88c878" fill-opacity="0.75" stroke="#58984a" stroke-width="0.85" stroke-opacity="0.85"/>
<circle cx="419.01" cy="379.59" r="3.0" fill="#88c878" fill-opacity="0.75" stroke="#58984a" stroke-width="0.85" stroke-opacity="0.85"/>
<circle cx="435.38" cy="380.55" r="3.0" fill="#88c878" fill-opacity="0.75" stroke="#58984a" stroke-width="0.85" stroke-opacity="0.85"/>
<circle cx="443.08" cy="391.12" r="3.0" fill="#88c878" fill-opacity="0.75" stroke="#58984a" stroke-width="0.85" stroke-opacity="0.85"/>
<circle cx="400.30" cy="389.94" r="3.0" fill="#88c878" fill-opacity="0.75" stroke="#58984a" stroke-width="0.85" stroke-opacity="0.85"/>
<circle cx="427.57" cy="405.95" r="3.0" fill="#88c878" fill-opacity="0.75" stroke="#58984a" stroke-width="0.85" stroke-opacity="0.85"/>
<circle cx="461.58" cy="408.41" r="3.0" fill="#88c878" fill-opacity="0.75" stroke="#58984a" stroke-width="0.85" stroke-opacity="0.85"/>
<circle cx="483.60" cy="416.41" r="3.0" fill="#88c878" fill-opacity="0.75" stroke="#58984a" stroke-width="0.85" stroke-opacity="0.85"/>
<circle cx="487.99" cy="466.90" r="3.0" fill="#88c878" fill-opacity="0.75" stroke="#58984a" stroke-width="0.85" stroke-opacity="0.85"/>
<circle cx="400.30" cy="413.53" r="3.0" fill="#88c878" fill-opacity="0.75" stroke="#58984a" stroke-width="0.85" stroke-opacity="0.85"/>
<circle cx="446.82" cy="416.41" r="3.0" fill="#88c878" fill-opacity="0.75" stroke="#58984a" stroke-width="0.85" stroke-opacity="0.85"/>
<circle cx="400.30" cy="421.54" r="3.0" fill="#88c878" fill-opacity="0.75" stroke="#58984a" stroke-width="0.85" stroke-opacity="0.85"/>
<circle cx="400.30" cy="424.21" r="3.0" fill="#88c878" fill-opacity="0.75" stroke="#58984a" stroke-width="0.85" stroke-opacity="0.85"/>
<circle cx="400.30" cy="426.87" r="3.0" fill="#88c878" fill-opacity="0.75" stroke="#58984a" stroke-width="0.85" stroke-opacity="0.85"/>
<circle cx="400.30" cy="429.54" r="3.0" fill="#88c878" fill-opacity="0.75" stroke="#58984a" stroke-width="0.85" stroke-opacity="0.85"/>
<circle cx="400.30" cy="432.21" r="3.0" fill="#88c878" fill-opacity="0.75" stroke="#58984a" stroke-width="0.85" stroke-opacity="0.85"/>
<circle cx="400.30" cy="434.88" r="3.0" fill="#88c878" fill-opacity="0.75" stroke="#58984a" stroke-width="0.85" stroke-opacity="0.85"/>
<circle cx="400.30" cy="437.55" r="3.0" fill="#88c878" fill-opacity="0.75" stroke="#58984a" stroke-width="0.85" stroke-opacity="0.85"/>
<circle cx="400.30" cy="440.22" r="3.0" fill="#88c878" fill-opacity="0.75" stroke="#58984a" stroke-width="0.85" stroke-opacity="0.85"/>
<circle cx="400.30" cy="443.42" r="3.0" fill="#88c878" fill-opacity="0.75" stroke="#58984a" stroke-width="0.85" stroke-opacity="0.85"/>
<circle cx="400.30" cy="450.89" r="3.0" fill="#88c878" fill-opacity="0.75" stroke="#58984a" stroke-width="0.85" stroke-opacity="0.85"/>
<circle cx="400.30" cy="453.56" r="3.0" fill="#88c878" fill-opacity="0.75" stroke="#58984a" stroke-width="0.85" stroke-opacity="0.85"/>
<circle cx="400.30" cy="456.23" r="3.0" fill="#88c878" fill-opacity="0.75" stroke="#58984a" stroke-width="0.85" stroke-opacity="0.85"/>
<circle cx="400.30" cy="458.89" r="3.0" fill="#88c878" fill-opacity="0.75" stroke="#58984a" stroke-width="0.85" stroke-opacity="0.85"/>
<circle cx="400.30" cy="461.56" r="3.0" fill="#88c878" fill-opacity="0.75" stroke="#58984a" stroke-width="0.85" stroke-opacity="0.85"/>
<circle cx="400.30" cy="464.23" r="3.0" fill="#88c878" fill-opacity="0.75" stroke="#58984a" stroke-width="0.85" stroke-opacity="0.85"/>
<circle cx="400.30" cy="466.90" r="3.0" fill="#88c878" fill-opacity="0.75" stroke="#58984a" stroke-width="0.85" stroke-opacity="0.85"/>
<circle cx="400.30" cy="446.83" r="3.0" fill="#e08a44" fill-opacity="0.75" stroke="#a85a24" stroke-width="0.85" stroke-opacity="0.85"/>
<circle cx="403.83" cy="459.96" r="3.0" fill="#88c878" fill-opacity="0.75" stroke="#58984a" stroke-width="0.85" stroke-opacity="0.85"/>
<circle cx="412.60" cy="461.03" r="3.0" fill="#88c878" fill-opacity="0.75" stroke="#58984a" stroke-width="0.85" stroke-opacity="0.85"/>
<circle cx="431.31" cy="462.95" r="3.0" fill="#88c878" fill-opacity="0.75" stroke="#58984a" stroke-width="0.85" stroke-opacity="0.85"/>
<circle cx="407.79" cy="466.90" r="3.0" fill="#88c878" fill-opacity="0.75" stroke="#58984a" stroke-width="0.85" stroke-opacity="0.85"/>
<circle cx="411.53" cy="466.90" r="3.0" fill="#88c878" fill-opacity="0.75" stroke="#58984a" stroke-width="0.85" stroke-opacity="0.85"/>
<circle cx="404.58" cy="466.90" r="3.0" fill="#e08a44" fill-opacity="0.75" stroke="#a85a24" stroke-width="0.85" stroke-opacity="0.85"/>
<circle cx="417.41" cy="466.90" r="3.0" fill="#a862c4" fill-opacity="0.75" stroke="#74408e" stroke-width="0.85" stroke-opacity="0.85"/>
<circle cx="420.30" cy="466.90" r="3.0" fill="#a862c4" fill-opacity="0.75" stroke="#74408e" stroke-width="0.85" stroke-opacity="0.85"/>
<circle cx="427.03" cy="466.90" r="3.0" fill="#a862c4" fill-opacity="0.75" stroke="#74408e" stroke-width="0.85" stroke-opacity="0.85"/>
<circle cx="430.24" cy="466.90" r="3.0" fill="#88c878" fill-opacity="0.75" stroke="#58984a" stroke-width="0.85" stroke-opacity="0.85"/>
<circle cx="433.45" cy="466.90" r="3.0" fill="#88c878" fill-opacity="0.75" stroke="#58984a" stroke-width="0.85" stroke-opacity="0.85"/>
<circle cx="437.19" cy="466.90" r="3.0" fill="#e08a44" fill-opacity="0.75" stroke="#a85a24" stroke-width="0.85" stroke-opacity="0.85"/>
<circle cx="443.61" cy="466.90" r="3.0" fill="#a862c4" fill-opacity="0.75" stroke="#74408e" stroke-width="0.85" stroke-opacity="0.85"/>
<circle cx="448.96" cy="466.90" r="3.0" fill="#88c878" fill-opacity="0.75" stroke="#58984a" stroke-width="0.85" stroke-opacity="0.85"/>
<circle cx="439.87" cy="466.90" r="3.0" fill="#88c878" fill-opacity="0.75" stroke="#58984a" stroke-width="0.85" stroke-opacity="0.85"/>
<circle cx="425.97" cy="422.39" r="3.0" fill="#a862c4" fill-opacity="0.75" stroke="#74408e" stroke-width="0.85" stroke-opacity="0.85"/>
<circle cx="427.78" cy="422.39" r="3.0" fill="#e08a44" fill-opacity="0.75" stroke="#a85a24" stroke-width="0.85" stroke-opacity="0.85"/>
<circle cx="416.34" cy="426.34" r="3.0" fill="#a862c4" fill-opacity="0.75" stroke="#74408e" stroke-width="0.85" stroke-opacity="0.85"/>
<circle cx="445.21" cy="420.47" r="3.0" fill="#a862c4" fill-opacity="0.75" stroke="#74408e" stroke-width="0.85" stroke-opacity="0.85"/>
<circle cx="450.56" cy="425.27" r="3.0" fill="#a862c4" fill-opacity="0.75" stroke="#74408e" stroke-width="0.85" stroke-opacity="0.85"/>
<circle cx="439.33" cy="423.67" r="3.0" fill="#88c878" fill-opacity="0.75" stroke="#58984a" stroke-width="0.85" stroke-opacity="0.85"/>
<circle cx="437.73" cy="428.47" r="3.0" fill="#a862c4" fill-opacity="0.75" stroke="#74408e" stroke-width="0.85" stroke-opacity="0.85"/>
<circle cx="443.61" cy="428.47" r="3.0" fill="#a862c4" fill-opacity="0.75" stroke="#74408e" stroke-width="0.85" stroke-opacity="0.85"/>
<circle cx="431.85" cy="431.68" r="3.0" fill="#88c878" fill-opacity="0.75" stroke="#58984a" stroke-width="0.85" stroke-opacity="0.85"/>
<circle cx="430.78" cy="437.55" r="3.0" fill="#88c878" fill-opacity="0.75" stroke="#58984a" stroke-width="0.85" stroke-opacity="0.85"/>
<circle cx="433.99" cy="441.82" r="3.0" fill="#88c878" fill-opacity="0.75" stroke="#58984a" stroke-width="0.85" stroke-opacity="0.85"/>
<circle cx="436.66" cy="446.09" r="3.0" fill="#88c878" fill-opacity="0.75" stroke="#58984a" stroke-width="0.85" stroke-opacity="0.85"/>
<circle cx="431.85" cy="448.75" r="3.0" fill="#88c878" fill-opacity="0.75" stroke="#58984a" stroke-width="0.85" stroke-opacity="0.85"/>
<circle cx="445.21" cy="433.81" r="3.0" fill="#a862c4" fill-opacity="0.75" stroke="#74408e" stroke-width="0.85" stroke-opacity="0.85"/>
<circle cx="448.42" cy="441.28" r="3.0" fill="#a862c4" fill-opacity="0.75" stroke="#74408e" stroke-width="0.85" stroke-opacity="0.85"/>
<circle cx="440.40" cy="440.22" r="3.0" fill="#a862c4" fill-opacity="0.75" stroke="#74408e" stroke-width="0.85" stroke-opacity="0.85"/>
<circle cx="444.68" cy="446.83" r="3.0" fill="#a862c4" fill-opacity="0.75" stroke="#74408e" stroke-width="0.85" stroke-opacity="0.85"/>
<circle cx="442.01" cy="455.16" r="3.0" fill="#a862c4" fill-opacity="0.75" stroke="#74408e" stroke-width="0.85" stroke-opacity="0.85"/>
<circle cx="445.21" cy="453.56" r="3.0" fill="#a862c4" fill-opacity="0.75" stroke="#74408e" stroke-width="0.85" stroke-opacity="0.85"/>
<circle cx="443.08" cy="437.01" r="3.0" fill="#a862c4" fill-opacity="0.75" stroke="#74408e" stroke-width="0.85" stroke-opacity="0.85"/>
<circle cx="440.94" cy="431.68" r="3.0" fill="#a862c4" fill-opacity="0.75" stroke="#74408e" stroke-width="0.85" stroke-opacity="0.85"/>
<circle cx="419.55" cy="440.22" r="3.0" fill="#a862c4" fill-opacity="0.75" stroke="#74408e" stroke-width="0.85" stroke-opacity="0.85"/>
<circle cx="413.13" cy="446.62" r="3.0" fill="#a862c4" fill-opacity="0.75" stroke="#74408e" stroke-width="0.85" stroke-opacity="0.85"/>
<circle cx="415.27" cy="453.02" r="3.0" fill="#88c878" fill-opacity="0.75" stroke="#58984a" stroke-width="0.85" stroke-opacity="0.85"/>
<circle cx="424.90" cy="453.56" r="3.0" fill="#88c878" fill-opacity="0.75" stroke="#58984a" stroke-width="0.85" stroke-opacity="0.85"/>
<text x="452.85" y="497.90" font-size="9.2" text-anchor="middle" fill="#1a1a1a" font-weight="normal" textLength="45.5" lengthAdjust="spacingAndGlyphs" stroke="#1a1a1a" stroke-width="0.4" >Diagnosis VAF%</text>
<text x="0" y="0" font-size="9.2" fill="#1a1a1a" stroke="#1a1a1a" stroke-width="0.4" text-anchor="middle" textLength="33.4" lengthAdjust="spacingAndGlyphs" transform="translate(370.70,413.4) rotate(-90)">REL1 VAF%</text>
<text x="488.20" y="436.80" font-size="7.6" text-anchor="start" fill="#4e8a4a" font-weight="normal" stroke="#4e8a4a" stroke-width="0.1" >FLT3</text>
<text x="488.20" y="448.30" font-size="7.6" text-anchor="start" fill="#9058b0" font-weight="normal" stroke="#9058b0" stroke-width="0.1" >NPM1</text>
<text x="488.20" y="459.40" font-size="7.6" text-anchor="start" fill="#c07448" font-weight="normal" stroke="#c07448" stroke-width="0.1" >NRAS</text>
<rect x="28.50" y="545.80" width="64.0" height="63.3" fill="none" stroke="#333" stroke-width="1.25"/>
<line x1="60.50" y1="545.8" x2="60.50" y2="609.0999999999999" stroke="#333" stroke-width="1.25"/>
<line x1="28.5" y1="577.45" x2="92.5" y2="577.45" stroke="#333" stroke-width="1.25"/>
<text x="60.50" y="520.0" font-size="8.8" text-anchor="middle" fill="#1e1e1e" stroke="#1e1e1e" stroke-width="0.2">FLT3<tspan font-size="4.8" dy="-3.4" stroke-width="0.1">mut</tspan><tspan dy="3.4" fill="#9a98d8" stroke="#9a98d8" stroke-width="0.1"> loss</tspan></text>
<text x="60.50" y="531.20" font-size="8.8" text-anchor="middle" fill="#1e1e1e" font-weight="normal" stroke="#1e1e1e" stroke-width="0.2" >at REL1</text>
<line x1="42.50" y1="540.70" x2="46.50" y2="540.70" stroke="#3a3a3a" stroke-width="1.1"/>
<path d="M74.40,540.60 H78.60 M76.50,538.50 V542.70" stroke="#3a3a3a" stroke-width="1.0" fill="none"/>
<line x1="20.20" y1="561.90" x2="24.20" y2="561.90" stroke="#3a3a3a" stroke-width="1.1"/>
<path d="M20.10,593.50 H24.30 M22.20,591.40 V595.60" stroke="#3a3a3a" stroke-width="1.0" fill="none"/>
<text x="44.50" y="564.12" font-size="8.0" text-anchor="middle" fill="#2a2a2a" font-weight="normal" stroke="#2a2a2a" stroke-width="0.02" >60</text>
<text x="76.50" y="564.12" font-size="8.0" text-anchor="middle" fill="#2a2a2a" font-weight="normal" stroke="#2a2a2a" stroke-width="0.02" >11</text>
<text x="44.50" y="595.77" font-size="8.0" text-anchor="middle" fill="#2a2a2a" font-weight="normal" stroke="#2a2a2a" stroke-width="0.02" >0</text>
<text x="76.50" y="595.77" font-size="8.0" text-anchor="middle" fill="#2a2a2a" font-weight="normal" stroke="#2a2a2a" stroke-width="0.02" >5</text>
<text x="0" y="0" font-size="8.6" fill="#1e1e1e" stroke="#1e1e1e" stroke-width="0.2" text-anchor="middle" textLength="45.3" lengthAdjust="spacingAndGlyphs" transform="translate(14.20,577.45) rotate(-90)">FLT3i treatment</text>
<text x="60.20" y="619.30" font-size="8.0" text-anchor="middle" fill="#222" font-weight="normal" textLength="46.2" lengthAdjust="spacingAndGlyphs" stroke="#222" stroke-width="0.05" >logOR = 4.06</text>
<text x="60.30" y="628.2" font-size="8.0" text-anchor="middle" fill="#1e1e1e" stroke="#222" stroke-width="0.05" textLength="76.7" lengthAdjust="spacingAndGlyphs">[1.78 - 8.96] <tspan font-style="italic">P</tspan> = .0001</text>
<rect x="161.30" y="545.80" width="64.0" height="63.3" fill="none" stroke="#333" stroke-width="1.25"/>
<line x1="193.30" y1="545.8" x2="193.30" y2="609.0999999999999" stroke="#333" stroke-width="1.25"/>
<line x1="161.3" y1="577.45" x2="225.3" y2="577.45" stroke="#333" stroke-width="1.25"/>
<text x="193.30" y="520.0" font-size="8.8" text-anchor="middle" fill="#1e1e1e" stroke="#1e1e1e" stroke-width="0.2">FLT3<tspan font-size="4.8" dy="-3.4" stroke-width="0.1">mut</tspan><tspan dy="3.4" fill="#9a98d8" stroke="#9a98d8" stroke-width="0.1"> loss</tspan></text>
<text x="193.30" y="531.20" font-size="8.8" text-anchor="middle" fill="#1e1e1e" font-weight="normal" stroke="#1e1e1e" stroke-width="0.2" >at REL1</text>
<line x1="175.30" y1="540.70" x2="179.30" y2="540.70" stroke="#3a3a3a" stroke-width="1.1"/>
<path d="M207.20,540.60 H211.40 M209.30,538.50 V542.70" stroke="#3a3a3a" stroke-width="1.0" fill="none"/>
<line x1="153.00" y1="561.90" x2="157.00" y2="561.90" stroke="#3a3a3a" stroke-width="1.1"/>
<path d="M152.90,593.50 H157.10 M155.00,591.40 V595.60" stroke="#3a3a3a" stroke-width="1.0" fill="none"/>
<text x="177.30" y="564.12" font-size="8.0" text-anchor="middle" fill="#2a2a2a" font-weight="normal" stroke="#2a2a2a" stroke-width="0.02" >59</text>
<text x="209.30" y="564.12" font-size="8.0" text-anchor="middle" fill="#2a2a2a" font-weight="normal" stroke="#2a2a2a" stroke-width="0.02" >14</text>
<text x="177.30" y="595.77" font-size="8.0" text-anchor="middle" fill="#2a2a2a" font-weight="normal" stroke="#2a2a2a" stroke-width="0.02" >1</text>
<text x="209.30" y="595.77" font-size="8.0" text-anchor="middle" fill="#2a2a2a" font-weight="normal" stroke="#2a2a2a" stroke-width="0.02" >2</text>
<text x="0" y="0" font-size="8.6" fill="#1e1e1e" stroke="#1e1e1e" stroke-width="0.2" text-anchor="middle" textLength="60.4" lengthAdjust="spacingAndGlyphs" transform="translate(147.00,577.45) rotate(-90)">STAG2<tspan font-size="4.8" dy="-2.8" stroke-width="0.1">mut</tspan><tspan dy="2.8"> at diagnosis</tspan></text>
<text x="193.00" y="619.30" font-size="8.0" text-anchor="middle" fill="#222" font-weight="normal" textLength="46.2" lengthAdjust="spacingAndGlyphs" stroke="#222" stroke-width="0.05" >logOR = 1.92</text>
<text x="193.10" y="628.2" font-size="8.0" text-anchor="middle" fill="#1e1e1e" stroke="#222" stroke-width="0.05" textLength="74.1" lengthAdjust="spacingAndGlyphs">[&#8722;0.17 - 4.37] <tspan font-style="italic">P</tspan> = .07</text>
<text x="156.30" y="643.6" font-size="8.0" fill="#1e1e1e" stroke="#222" stroke-width="0.05" textLength="67.3" lengthAdjust="spacingAndGlyphs">Adjusted for FLT3i:</text>
<line x1="156.30" y1="644.3" x2="223.60" y2="644.3" stroke="#444" stroke-width="0.55"/>
<text x="156.30" y="652.4" font-size="8.0" fill="#1e1e1e" stroke="#222" stroke-width="0.05" textLength="89.6" lengthAdjust="spacingAndGlyphs">logOR = 2.35 [0.23 - 4.82]</text>
<text x="156.30" y="661.3" font-size="8.0" fill="#1e1e1e" stroke="#222" stroke-width="0.05" textLength="28" lengthAdjust="spacingAndGlyphs"><tspan font-style="italic">P</tspan> = .031</text>
<rect x="304.00" y="545.80" width="64.0" height="63.3" fill="none" stroke="#333" stroke-width="1.25"/>
<line x1="336.00" y1="545.8" x2="336.00" y2="609.0999999999999" stroke="#333" stroke-width="1.25"/>
<line x1="304.0" y1="577.45" x2="368.0" y2="577.45" stroke="#333" stroke-width="1.25"/>
<text x="336.00" y="520.0" font-size="8.8" text-anchor="middle" fill="#1e1e1e" stroke="#1e1e1e" stroke-width="0.2">FLT3<tspan font-size="4.8" dy="-3.4" stroke-width="0.1">mut</tspan><tspan dy="3.4" fill="#d8306a" stroke="#d8306a" stroke-width="0.1"> gain</tspan></text>
<text x="336.00" y="531.20" font-size="8.8" text-anchor="middle" fill="#1e1e1e" font-weight="normal" stroke="#1e1e1e" stroke-width="0.2" >at REL1</text>
<line x1="318.00" y1="540.70" x2="322.00" y2="540.70" stroke="#3a3a3a" stroke-width="1.1"/>
<path d="M349.90,540.60 H354.10 M352.00,538.50 V542.70" stroke="#3a3a3a" stroke-width="1.0" fill="none"/>
<line x1="295.70" y1="561.90" x2="299.70" y2="561.90" stroke="#3a3a3a" stroke-width="1.1"/>
<path d="M295.60,593.50 H299.80 M297.70,591.40 V595.60" stroke="#3a3a3a" stroke-width="1.0" fill="none"/>
<text x="320.00" y="564.12" font-size="8.0" text-anchor="middle" fill="#2a2a2a" font-weight="normal" stroke="#2a2a2a" stroke-width="0.02" >63</text>
<text x="352.00" y="564.12" font-size="8.0" text-anchor="middle" fill="#2a2a2a" font-weight="normal" stroke="#2a2a2a" stroke-width="0.02" >9</text>
<text x="320.00" y="595.77" font-size="8.0" text-anchor="middle" fill="#2a2a2a" font-weight="normal" stroke="#2a2a2a" stroke-width="0.02" >1</text>
<text x="352.00" y="595.77" font-size="8.0" text-anchor="middle" fill="#2a2a2a" font-weight="normal" stroke="#2a2a2a" stroke-width="0.02" >3</text>
<text x="0" y="0" font-size="8.6" fill="#1e1e1e" stroke="#1e1e1e" stroke-width="0.2" text-anchor="middle" textLength="64.4" lengthAdjust="spacingAndGlyphs" transform="translate(289.70,577.45) rotate(-90)">PTPN11<tspan font-size="4.8" dy="-2.8" stroke-width="0.1">mut</tspan><tspan dy="2.8"> at diagnosis</tspan></text>
<text x="335.70" y="619.30" font-size="8.0" text-anchor="middle" fill="#222" font-weight="normal" textLength="47" lengthAdjust="spacingAndGlyphs" stroke="#222" stroke-width="0.05" >logOR = 2.75</text>
<text x="335.80" y="628.2" font-size="8.0" text-anchor="middle" fill="#1e1e1e" stroke="#222" stroke-width="0.05" textLength="73.7" lengthAdjust="spacingAndGlyphs">[0.82 - 5.16] <tspan font-style="italic">P</tspan> = .005</text>
<text x="299.00" y="643.6" font-size="8.0" fill="#1e1e1e" stroke="#222" stroke-width="0.05" textLength="67.3" lengthAdjust="spacingAndGlyphs">Adjusted for FLT3i:</text>
<line x1="299.00" y1="644.3" x2="366.30" y2="644.3" stroke="#444" stroke-width="0.55"/>
<text x="299.00" y="652.4" font-size="8.0" fill="#1e1e1e" stroke="#222" stroke-width="0.05" textLength="88.9" lengthAdjust="spacingAndGlyphs">logOR = 2.67 [0.74 - 5.08]</text>
<text x="299.00" y="661.3" font-size="8.0" fill="#1e1e1e" stroke="#222" stroke-width="0.05" textLength="28" lengthAdjust="spacingAndGlyphs"><tspan font-style="italic">P</tspan> = .007</text>
<rect x="442.60" y="545.80" width="64.0" height="63.3" fill="none" stroke="#333" stroke-width="1.25"/>
<line x1="474.60" y1="545.8" x2="474.60" y2="609.0999999999999" stroke="#333" stroke-width="1.25"/>
<line x1="442.6" y1="577.45" x2="506.6" y2="577.45" stroke="#333" stroke-width="1.25"/>
<text x="474.60" y="520.0" font-size="8.8" text-anchor="middle" fill="#1e1e1e" stroke="#1e1e1e" stroke-width="0.2">WT1<tspan font-size="4.8" dy="-3.4" stroke-width="0.1">mut</tspan><tspan dy="3.4" fill="#9a98d8" stroke="#9a98d8" stroke-width="0.1"> loss</tspan></text>
<text x="474.60" y="531.20" font-size="8.8" text-anchor="middle" fill="#1e1e1e" font-weight="normal" stroke="#1e1e1e" stroke-width="0.2" >at REL1</text>
<line x1="456.60" y1="540.70" x2="460.60" y2="540.70" stroke="#3a3a3a" stroke-width="1.1"/>
<path d="M488.50,540.60 H492.70 M490.60,538.50 V542.70" stroke="#3a3a3a" stroke-width="1.0" fill="none"/>
<line x1="434.30" y1="561.90" x2="438.30" y2="561.90" stroke="#3a3a3a" stroke-width="1.1"/>
<path d="M434.20,593.50 H438.40 M436.30,591.40 V595.60" stroke="#3a3a3a" stroke-width="1.0" fill="none"/>
<text x="458.60" y="564.12" font-size="8.0" text-anchor="middle" fill="#2a2a2a" font-weight="normal" stroke="#2a2a2a" stroke-width="0.02" >65</text>
<text x="490.60" y="564.12" font-size="8.0" text-anchor="middle" fill="#2a2a2a" font-weight="normal" stroke="#2a2a2a" stroke-width="0.02" >0</text>
<text x="458.60" y="595.77" font-size="8.0" text-anchor="middle" fill="#2a2a2a" font-weight="normal" stroke="#2a2a2a" stroke-width="0.02" >8</text>
<text x="490.60" y="595.77" font-size="8.0" text-anchor="middle" fill="#2a2a2a" font-weight="normal" stroke="#2a2a2a" stroke-width="0.02" >3</text>
<text x="0" y="0" font-size="8.6" fill="#1e1e1e" stroke="#1e1e1e" stroke-width="0.2" text-anchor="middle" textLength="57.6" lengthAdjust="spacingAndGlyphs" transform="translate(428.30,577.45) rotate(-90)">NRAS<tspan font-size="4.8" dy="-2.8" stroke-width="0.1">mut</tspan><tspan dy="2.8"> at diagnosis</tspan></text>
<text x="474.30" y="619.30" font-size="8.0" text-anchor="middle" fill="#222" font-weight="normal" textLength="45.4" lengthAdjust="spacingAndGlyphs" stroke="#222" stroke-width="0.05" >logOR = 3.99</text>
<text x="474.40" y="628.2" font-size="8.0" text-anchor="middle" fill="#1e1e1e" stroke="#222" stroke-width="0.05" textLength="78.4" lengthAdjust="spacingAndGlyphs">[1.54 - 8.92] <tspan font-style="italic">P</tspan> = .0008</text>
</svg></body></html>
